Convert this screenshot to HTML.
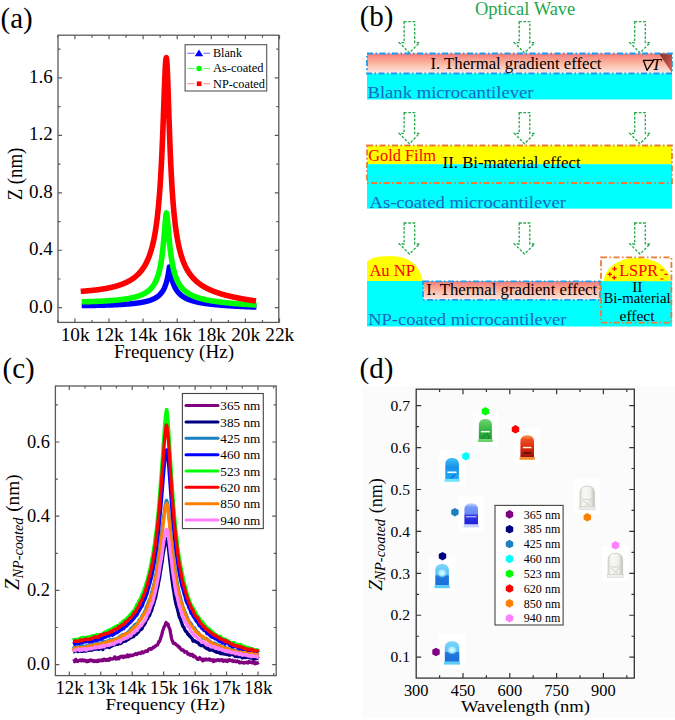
<!DOCTYPE html>
<html><head><meta charset="utf-8"><style>html,body{margin:0;padding:0;background:#fff;}svg{display:block;}</style></head>
<body><svg width="675" height="720" viewBox="0 0 675 720">
<rect width="675" height="720" fill="#fff"/>
<g font-family="Liberation Serif, serif">
<text x="0.6" y="27.7" font-size="29" text-anchor="start" fill="#000">(a)</text>
<text x="52.8" y="312.5" font-size="19.0" text-anchor="end" fill="#000">0.0</text>
<text x="52.8" y="255.06" font-size="19.0" text-anchor="end" fill="#000">0.4</text>
<text x="52.8" y="197.62" font-size="19.0" text-anchor="end" fill="#000">0.8</text>
<text x="52.8" y="140.18" font-size="19.0" text-anchor="end" fill="#000">1.2</text>
<text x="52.8" y="82.74" font-size="19.0" text-anchor="end" fill="#000">1.6</text>
<text x="75.10000000000001" y="340.6" font-size="19.3" text-anchor="middle" fill="#000">10k</text>
<text x="109.2" y="340.6" font-size="19.3" text-anchor="middle" fill="#000">12k</text>
<text x="143.3" y="340.6" font-size="19.3" text-anchor="middle" fill="#000">14k</text>
<text x="177.4" y="340.6" font-size="19.3" text-anchor="middle" fill="#000">16k</text>
<text x="211.5" y="340.6" font-size="19.3" text-anchor="middle" fill="#000">18k</text>
<text x="245.6" y="340.6" font-size="19.3" text-anchor="middle" fill="#000">20k</text>
<text x="279.7" y="340.6" font-size="19.3" text-anchor="middle" fill="#000">22k</text>
<text x="114" y="357.5" font-size="18.8" text-anchor="start" fill="#000" textLength="120" lengthAdjust="spacingAndGlyphs">Frequency (Hz)</text>
<text transform="translate(22.4,200.3) rotate(-90)" font-size="20.5" textLength="52.5" lengthAdjust="spacingAndGlyphs">Z (nm)</text>
<clipPath id="ca"><rect x="58" y="35.2" width="220.8" height="287.2"/></clipPath>
<g clip-path="url(#ca)">
<path d="M81.72,305.64 L81.97,305.64 L82.22,305.63 L82.47,305.63 L82.72,305.63 L82.97,305.62 L83.22,305.62 L83.47,305.62 L83.72,305.62 L83.97,305.61 L84.22,305.61 L84.47,305.61 L84.72,305.60 L84.97,305.60 L85.22,305.60 L85.47,305.59 L85.72,305.59 L85.97,305.59 L86.22,305.58 L86.47,305.58 L86.72,305.58 L86.97,305.57 L87.22,305.57 L87.47,305.56 L87.72,305.56 L87.97,305.56 L88.22,305.55 L88.47,305.55 L88.72,305.55 L88.97,305.54 L89.22,305.54 L89.47,305.53 L89.72,305.53 L89.97,305.53 L90.22,305.52 L90.47,305.52 L90.72,305.51 L90.97,305.51 L91.22,305.51 L91.47,305.50 L91.72,305.50 L91.97,305.49 L92.22,305.49 L92.47,305.48 L92.72,305.48 L92.97,305.47 L93.22,305.47 L93.47,305.47 L93.72,305.46 L93.97,305.46 L94.22,305.45 L94.47,305.45 L94.72,305.44 L94.97,305.44 L95.22,305.43 L95.47,305.43 L95.72,305.42 L95.97,305.42 L96.22,305.41 L96.47,305.41 L96.72,305.40 L96.97,305.40 L97.22,305.39 L97.47,305.38 L97.72,305.38 L97.97,305.37 L98.22,305.37 L98.47,305.36 L98.72,305.36 L98.97,305.35 L99.22,305.35 L99.47,305.34 L99.72,305.33 L99.97,305.33 L100.22,305.32 L100.47,305.32 L100.72,305.31 L100.97,305.30 L101.22,305.30 L101.47,305.29 L101.72,305.28 L101.97,305.28 L102.22,305.27 L102.47,305.26 L102.72,305.26 L102.97,305.25 L103.22,305.24 L103.47,305.24 L103.72,305.23 L103.97,305.22 L104.22,305.22 L104.47,305.21 L104.72,305.20 L104.97,305.19 L105.22,305.19 L105.47,305.18 L105.72,305.17 L105.97,305.16 L106.22,305.16 L106.47,305.15 L106.72,305.14 L106.97,305.13 L107.22,305.12 L107.47,305.12 L107.72,305.11 L107.97,305.10 L108.22,305.09 L108.47,305.08 L108.72,305.07 L108.97,305.07 L109.22,305.06 L109.47,305.05 L109.72,305.04 L109.97,305.03 L110.22,305.02 L110.47,305.01 L110.72,305.00 L110.97,304.99 L111.22,304.98 L111.47,304.97 L111.72,304.97 L111.97,304.96 L112.22,304.95 L112.47,304.94 L112.72,304.93 L112.97,304.92 L113.22,304.91 L113.47,304.89 L113.72,304.88 L113.97,304.87 L114.22,304.86 L114.47,304.85 L114.72,304.84 L114.97,304.83 L115.22,304.82 L115.47,304.81 L115.72,304.80 L115.97,304.78 L116.22,304.77 L116.47,304.76 L116.72,304.75 L116.97,304.74 L117.22,304.72 L117.47,304.71 L117.72,304.70 L117.97,304.69 L118.22,304.67 L118.47,304.66 L118.72,304.65 L118.97,304.64 L119.22,304.62 L119.47,304.61 L119.72,304.60 L119.97,304.58 L120.22,304.57 L120.47,304.55 L120.72,304.54 L120.97,304.52 L121.22,304.51 L121.47,304.50 L121.72,304.48 L121.97,304.47 L122.22,304.45 L122.47,304.43 L122.72,304.42 L122.97,304.40 L123.22,304.39 L123.47,304.37 L123.72,304.35 L123.97,304.34 L124.22,304.32 L124.47,304.30 L124.72,304.29 L124.97,304.27 L125.22,304.25 L125.47,304.23 L125.72,304.22 L125.97,304.20 L126.22,304.18 L126.47,304.16 L126.72,304.14 L126.97,304.12 L127.22,304.10 L127.47,304.08 L127.72,304.06 L127.97,304.04 L128.22,304.02 L128.47,304.00 L128.72,303.98 L128.97,303.96 L129.22,303.94 L129.47,303.92 L129.72,303.90 L129.97,303.87 L130.22,303.85 L130.47,303.83 L130.72,303.81 L130.97,303.78 L131.22,303.76 L131.47,303.73 L131.72,303.71 L131.97,303.69 L132.22,303.66 L132.47,303.64 L132.72,303.61 L132.97,303.58 L133.22,303.56 L133.47,303.53 L133.72,303.50 L133.97,303.48 L134.22,303.45 L134.47,303.42 L134.72,303.39 L134.97,303.36 L135.22,303.33 L135.47,303.30 L135.72,303.27 L135.97,303.24 L136.22,303.21 L136.47,303.18 L136.72,303.14 L136.97,303.11 L137.22,303.08 L137.47,303.04 L137.72,303.01 L137.97,302.98 L138.22,302.94 L138.47,302.90 L138.72,302.87 L138.97,302.83 L139.22,302.79 L139.47,302.76 L139.72,302.72 L139.97,302.68 L140.22,302.64 L140.47,302.60 L140.72,302.56 L140.97,302.51 L141.22,302.47 L141.47,302.43 L141.72,302.38 L141.97,302.34 L142.22,302.29 L142.47,302.25 L142.72,302.20 L142.97,302.15 L143.22,302.10 L143.47,302.05 L143.72,302.00 L143.97,301.95 L144.22,301.90 L144.47,301.84 L144.72,301.79 L144.97,301.73 L145.22,301.68 L145.47,301.62 L145.72,301.56 L145.97,301.50 L146.22,301.44 L146.47,301.38 L146.72,301.32 L146.97,301.25 L147.22,301.19 L147.47,301.12 L147.72,301.05 L147.97,300.98 L148.22,300.91 L148.47,300.84 L148.72,300.76 L148.97,300.69 L149.22,300.61 L149.47,300.53 L149.72,300.45 L149.97,300.37 L150.22,300.28 L150.47,300.20 L150.72,300.11 L150.97,300.02 L151.22,299.93 L151.47,299.83 L151.73,299.73 L151.98,299.64 L152.23,299.53 L152.48,299.43 L152.73,299.32 L152.98,299.21 L153.23,299.10 L153.48,298.99 L153.73,298.87 L153.98,298.75 L154.23,298.63 L154.48,298.50 L154.73,298.37 L154.98,298.23 L155.23,298.10 L155.48,297.95 L155.73,297.81 L155.98,297.66 L156.23,297.50 L156.48,297.34 L156.73,297.18 L156.98,297.01 L157.23,296.84 L157.48,296.66 L157.73,296.47 L157.98,296.28 L158.23,296.09 L158.48,295.88 L158.73,295.67 L158.98,295.45 L159.23,295.23 L159.48,295.00 L159.73,294.75 L159.98,294.50 L160.23,294.24 L160.48,293.97 L160.73,293.69 L160.98,293.40 L161.23,293.10 L161.48,292.78 L161.73,292.45 L161.98,292.11 L162.23,291.76 L162.48,291.38 L162.73,290.99 L162.98,290.59 L163.23,290.16 L163.48,289.71 L163.73,289.24 L163.98,288.75 L164.23,288.23 L164.48,287.69 L164.73,287.12 L164.98,286.51 L165.23,285.87 L165.48,285.19 L165.73,284.48 L165.98,283.72 L166.23,282.91 L166.48,282.05 L166.73,281.14 L166.98,280.16 L167.23,279.12 L167.48,278.00 L167.73,276.81 L167.98,275.53 L168.23,274.15 L168.48,272.68 L168.73,271.10 L168.98,269.42 L169.23,267.68 L169.35,266.89 L169.48,267.62 L169.73,269.09 L169.98,270.52 L170.23,271.89 L170.48,273.18 L170.73,274.40 L170.98,275.56 L171.23,276.64 L171.48,277.67 L171.73,278.64 L171.98,279.55 L172.23,280.41 L172.48,281.23 L172.73,282.01 L172.98,282.74 L173.23,283.44 L173.48,284.10 L173.73,284.73 L173.98,285.33 L174.23,285.91 L174.48,286.45 L174.73,286.97 L174.98,287.47 L175.23,287.95 L175.48,288.41 L175.73,288.85 L175.98,289.27 L176.23,289.67 L176.48,290.06 L176.73,290.43 L176.98,290.79 L177.23,291.14 L177.48,291.47 L177.73,291.79 L177.98,292.10 L178.23,292.40 L178.48,292.69 L178.73,292.97 L178.98,293.24 L179.23,293.50 L179.48,293.76 L179.73,294.00 L179.98,294.24 L180.23,294.47 L180.48,294.69 L180.73,294.91 L180.98,295.12 L181.23,295.33 L181.48,295.53 L181.73,295.72 L181.98,295.91 L182.23,296.09 L182.48,296.27 L182.73,296.44 L182.98,296.61 L183.23,296.77 L183.48,296.93 L183.73,297.09 L183.98,297.24 L184.23,297.39 L184.48,297.54 L184.73,297.68 L184.98,297.81 L185.23,297.95 L185.48,298.08 L185.73,298.21 L185.98,298.34 L186.23,298.46 L186.48,298.58 L186.73,298.70 L186.98,298.81 L187.23,298.93 L187.48,299.04 L187.73,299.14 L187.98,299.25 L188.23,299.35 L188.48,299.46 L188.73,299.56 L188.98,299.65 L189.23,299.75 L189.48,299.84 L189.73,299.94 L189.98,300.03 L190.23,300.11 L190.48,300.20 L190.73,300.29 L190.98,300.37 L191.23,300.45 L191.48,300.53 L191.73,300.61 L191.98,300.69 L192.23,300.77 L192.48,300.84 L192.73,300.92 L192.98,300.99 L193.23,301.06 L193.48,301.13 L193.73,301.20 L193.98,301.27 L194.23,301.34 L194.48,301.40 L194.73,301.47 L194.98,301.53 L195.23,301.60 L195.48,301.66 L195.73,301.72 L195.98,301.78 L196.23,301.84 L196.48,301.90 L196.73,301.96 L196.98,302.01 L197.23,302.07 L197.48,302.12 L197.73,302.18 L197.98,302.23 L198.23,302.28 L198.48,302.34 L198.73,302.39 L198.98,302.44 L199.23,302.49 L199.48,302.54 L199.73,302.59 L199.98,302.63 L200.23,302.68 L200.48,302.73 L200.73,302.77 L200.98,302.82 L201.23,302.86 L201.48,302.91 L201.73,302.95 L201.98,303.00 L202.23,303.04 L202.48,303.08 L202.73,303.12 L202.98,303.16 L203.23,303.20 L203.48,303.24 L203.73,303.28 L203.98,303.32 L204.23,303.36 L204.48,303.40 L204.73,303.44 L204.98,303.48 L205.23,303.51 L205.48,303.55 L205.73,303.59 L205.98,303.62 L206.23,303.66 L206.48,303.69 L206.73,303.73 L206.98,303.76 L207.23,303.80 L207.48,303.83 L207.73,303.86 L207.98,303.89 L208.23,303.93 L208.48,303.96 L208.73,303.99 L208.98,304.02 L209.23,304.05 L209.48,304.08 L209.73,304.12 L209.98,304.15 L210.23,304.18 L210.48,304.21 L210.73,304.23 L210.98,304.26 L211.23,304.29 L211.48,304.32 L211.73,304.35 L211.98,304.38 L212.23,304.40 L212.48,304.43 L212.73,304.46 L212.98,304.49 L213.23,304.51 L213.48,304.54 L213.73,304.57 L213.98,304.59 L214.23,304.62 L214.48,304.64 L214.73,304.67 L214.98,304.69 L215.23,304.72 L215.48,304.74 L215.73,304.77 L215.98,304.79 L216.23,304.81 L216.48,304.84 L216.73,304.86 L216.98,304.89 L217.23,304.91 L217.48,304.93 L217.73,304.95 L217.98,304.98 L218.23,305.00 L218.48,305.02 L218.73,305.04 L218.98,305.07 L219.23,305.09 L219.48,305.11 L219.73,305.13 L219.98,305.15 L220.23,305.17 L220.48,305.19 L220.73,305.21 L220.98,305.23 L221.23,305.25 L221.48,305.27 L221.73,305.29 L221.98,305.31 L222.23,305.33 L222.48,305.35 L222.73,305.37 L222.98,305.39 L223.23,305.41 L223.48,305.43 L223.73,305.45 L223.98,305.47 L224.23,305.49 L224.48,305.51 L224.73,305.52 L224.98,305.54 L225.23,305.56 L225.48,305.58 L225.73,305.60 L225.98,305.61 L226.23,305.63 L226.48,305.65 L226.73,305.67 L226.98,305.68 L227.23,305.70 L227.48,305.72 L227.73,305.74 L227.98,305.75 L228.23,305.77 L228.48,305.79 L228.73,305.80 L228.98,305.82 L229.23,305.83 L229.48,305.85 L229.73,305.87 L229.98,305.88 L230.23,305.90 L230.48,305.91 L230.73,305.93 L230.98,305.95 L231.23,305.96 L231.48,305.98 L231.73,305.99 L231.98,306.01 L232.23,306.02 L232.48,306.04 L232.73,306.05 L232.98,306.07 L233.23,306.08 L233.48,306.10 L233.73,306.11 L233.98,306.12 L234.23,306.14 L234.48,306.15 L234.73,306.17 L234.98,306.18 L235.23,306.20 L235.48,306.21 L235.73,306.22 L235.98,306.24 L236.23,306.25 L236.48,306.26 L236.73,306.28 L236.98,306.29 L237.23,306.31 L237.48,306.32 L237.73,306.33 L237.98,306.35 L238.23,306.36 L238.48,306.37 L238.73,306.38 L238.98,306.40 L239.23,306.41 L239.48,306.42 L239.73,306.44 L239.98,306.45 L240.23,306.46 L240.48,306.47 L240.73,306.49 L240.98,306.50 L241.23,306.51 L241.48,306.52 L241.73,306.54 L241.98,306.55 L242.23,306.56 L242.48,306.57 L242.73,306.58 L242.98,306.60 L243.23,306.61 L243.48,306.62 L243.73,306.63 L243.98,306.64 L244.23,306.65 L244.48,306.67 L244.73,306.68 L244.98,306.69 L245.23,306.70 L245.48,306.71 L245.73,306.72 L245.98,306.73 L246.23,306.75 L246.48,306.76 L246.73,306.77 L246.98,306.78 L247.23,306.79 L247.48,306.80 L247.73,306.81 L247.98,306.82 L248.23,306.83 L248.48,306.84 L248.73,306.85 L248.98,306.87 L249.23,306.88 L249.48,306.89 L249.73,306.90 L249.98,306.91 L250.23,306.92 L250.48,306.93 L250.73,306.94 L250.98,306.95 L251.23,306.96 L251.48,306.97 L251.73,306.98 L251.98,306.99 L252.23,307.00 L252.48,307.01 L252.73,307.02 L252.98,307.03 L253.23,307.04 L253.48,307.05 L253.73,307.06 L253.98,307.07 L254.23,307.08 L254.48,307.09 L254.73,307.10 L254.98,307.11 L255.23,307.12 L255.48,307.13 L255.73,307.14 L255.98,307.15 L256.23,307.16 L256.48,307.17" stroke="#0000ff" stroke-width="5.4" fill="none" stroke-linejoin="round"/>
<path d="M81.72,301.81 L81.97,301.80 L82.22,301.79 L82.47,301.79 L82.72,301.78 L82.97,301.78 L83.22,301.77 L83.47,301.77 L83.72,301.76 L83.97,301.75 L84.22,301.75 L84.47,301.74 L84.72,301.74 L84.97,301.73 L85.22,301.72 L85.47,301.72 L85.72,301.71 L85.97,301.70 L86.22,301.70 L86.47,301.69 L86.72,301.68 L86.97,301.68 L87.22,301.67 L87.47,301.66 L87.72,301.66 L87.97,301.65 L88.22,301.64 L88.47,301.64 L88.72,301.63 L88.97,301.62 L89.22,301.61 L89.47,301.61 L89.72,301.60 L89.97,301.59 L90.22,301.58 L90.47,301.58 L90.72,301.57 L90.97,301.56 L91.22,301.55 L91.47,301.54 L91.72,301.54 L91.97,301.53 L92.22,301.52 L92.47,301.51 L92.72,301.50 L92.97,301.49 L93.22,301.48 L93.47,301.48 L93.72,301.47 L93.97,301.46 L94.22,301.45 L94.47,301.44 L94.72,301.43 L94.97,301.42 L95.22,301.41 L95.47,301.40 L95.72,301.39 L95.97,301.38 L96.22,301.37 L96.47,301.36 L96.72,301.35 L96.97,301.34 L97.22,301.33 L97.47,301.32 L97.72,301.31 L97.97,301.30 L98.22,301.29 L98.47,301.28 L98.72,301.27 L98.97,301.26 L99.22,301.25 L99.47,301.23 L99.72,301.22 L99.97,301.21 L100.22,301.20 L100.47,301.19 L100.72,301.18 L100.97,301.16 L101.22,301.15 L101.47,301.14 L101.72,301.13 L101.97,301.11 L102.22,301.10 L102.47,301.09 L102.72,301.08 L102.97,301.06 L103.22,301.05 L103.47,301.04 L103.72,301.02 L103.97,301.01 L104.22,301.00 L104.47,300.98 L104.72,300.97 L104.97,300.95 L105.22,300.94 L105.47,300.92 L105.72,300.91 L105.97,300.89 L106.22,300.88 L106.47,300.86 L106.72,300.85 L106.97,300.83 L107.22,300.82 L107.47,300.80 L107.72,300.79 L107.97,300.77 L108.22,300.75 L108.47,300.74 L108.72,300.72 L108.97,300.70 L109.22,300.69 L109.47,300.67 L109.72,300.65 L109.97,300.63 L110.22,300.62 L110.47,300.60 L110.72,300.58 L110.97,300.56 L111.22,300.54 L111.47,300.52 L111.72,300.50 L111.97,300.48 L112.22,300.46 L112.47,300.45 L112.72,300.43 L112.97,300.40 L113.22,300.38 L113.47,300.36 L113.72,300.34 L113.97,300.32 L114.22,300.30 L114.47,300.28 L114.72,300.26 L114.97,300.23 L115.22,300.21 L115.47,300.19 L115.72,300.17 L115.97,300.14 L116.22,300.12 L116.47,300.10 L116.72,300.07 L116.97,300.05 L117.22,300.02 L117.47,300.00 L117.72,299.97 L117.97,299.95 L118.22,299.92 L118.47,299.89 L118.72,299.87 L118.97,299.84 L119.22,299.81 L119.47,299.79 L119.72,299.76 L119.97,299.73 L120.22,299.70 L120.47,299.67 L120.72,299.64 L120.97,299.61 L121.22,299.58 L121.47,299.55 L121.72,299.52 L121.97,299.49 L122.22,299.46 L122.47,299.43 L122.72,299.40 L122.97,299.36 L123.22,299.33 L123.47,299.30 L123.72,299.26 L123.97,299.23 L124.22,299.19 L124.47,299.16 L124.72,299.12 L124.97,299.08 L125.22,299.05 L125.47,299.01 L125.72,298.97 L125.97,298.93 L126.22,298.89 L126.47,298.86 L126.72,298.82 L126.97,298.77 L127.22,298.73 L127.47,298.69 L127.72,298.65 L127.97,298.61 L128.22,298.56 L128.47,298.52 L128.72,298.47 L128.97,298.43 L129.22,298.38 L129.47,298.34 L129.72,298.29 L129.97,298.24 L130.22,298.19 L130.47,298.14 L130.72,298.09 L130.97,298.04 L131.22,297.99 L131.47,297.94 L131.72,297.88 L131.97,297.83 L132.22,297.77 L132.47,297.72 L132.72,297.66 L132.97,297.60 L133.22,297.54 L133.47,297.48 L133.72,297.42 L133.97,297.36 L134.22,297.30 L134.47,297.23 L134.72,297.17 L134.97,297.10 L135.22,297.04 L135.47,296.97 L135.72,296.90 L135.97,296.83 L136.22,296.76 L136.47,296.69 L136.72,296.61 L136.97,296.54 L137.22,296.46 L137.47,296.38 L137.72,296.30 L137.97,296.22 L138.22,296.14 L138.47,296.06 L138.72,295.97 L138.97,295.88 L139.22,295.79 L139.47,295.70 L139.72,295.61 L139.97,295.52 L140.22,295.42 L140.47,295.33 L140.72,295.23 L140.97,295.13 L141.22,295.02 L141.47,294.92 L141.72,294.81 L141.97,294.70 L142.22,294.59 L142.47,294.47 L142.72,294.36 L142.97,294.24 L143.22,294.12 L143.47,293.99 L143.72,293.86 L143.97,293.73 L144.22,293.60 L144.47,293.46 L144.72,293.33 L144.97,293.18 L145.22,293.04 L145.47,292.89 L145.72,292.74 L145.97,292.58 L146.22,292.42 L146.47,292.26 L146.72,292.09 L146.97,291.92 L147.22,291.74 L147.47,291.56 L147.72,291.38 L147.97,291.19 L148.22,290.99 L148.47,290.79 L148.72,290.59 L148.97,290.37 L149.22,290.16 L149.47,289.93 L149.72,289.70 L149.97,289.47 L150.22,289.22 L150.47,288.97 L150.72,288.72 L150.97,288.45 L151.22,288.18 L151.47,287.89 L151.73,287.60 L151.98,287.30 L152.23,286.99 L152.48,286.67 L152.73,286.34 L152.98,286.00 L153.23,285.65 L153.48,285.28 L153.73,284.90 L153.98,284.51 L154.23,284.10 L154.48,283.68 L154.73,283.24 L154.98,282.78 L155.23,282.31 L155.48,281.82 L155.73,281.31 L155.98,280.77 L156.23,280.22 L156.48,279.64 L156.73,279.03 L156.98,278.40 L157.23,277.74 L157.48,277.06 L157.73,276.33 L157.98,275.58 L158.23,274.79 L158.48,273.96 L158.73,273.08 L158.98,272.17 L159.23,271.20 L159.48,270.18 L159.73,269.11 L159.98,267.98 L160.23,266.79 L160.48,265.53 L160.73,264.19 L160.98,262.78 L161.23,261.28 L161.48,259.69 L161.73,258.01 L161.98,256.22 L162.23,254.32 L162.48,252.31 L162.73,250.17 L162.98,247.90 L163.23,245.51 L163.48,242.97 L163.73,240.31 L163.98,237.52 L164.23,234.61 L164.48,231.61 L164.73,228.55 L164.98,225.48 L165.23,222.48 L165.48,219.62 L165.73,217.05 L165.98,214.91 L166.23,213.44 L166.40,213.01 L166.48,213.12 L166.73,214.15 L166.98,215.88 L167.23,218.08 L167.48,220.61 L167.73,223.33 L167.98,226.17 L168.23,229.04 L168.48,231.90 L168.73,234.70 L168.98,237.42 L169.23,240.05 L169.48,242.56 L169.73,244.96 L169.98,247.24 L170.23,249.41 L170.48,251.46 L170.73,253.41 L170.98,255.25 L171.23,256.99 L171.48,258.64 L171.73,260.20 L171.98,261.67 L172.23,263.07 L172.48,264.39 L172.73,265.65 L172.98,266.84 L173.23,267.98 L173.48,269.06 L173.73,270.08 L173.98,271.06 L174.23,271.99 L174.48,272.87 L174.73,273.72 L174.98,274.53 L175.23,275.30 L175.48,276.04 L175.73,276.75 L175.98,277.43 L176.23,278.08 L176.48,278.71 L176.73,279.31 L176.98,279.88 L177.23,280.44 L177.48,280.97 L177.73,281.49 L177.98,281.98 L178.23,282.46 L178.48,282.92 L178.73,283.36 L178.98,283.79 L179.23,284.21 L179.48,284.61 L179.73,285.00 L179.98,285.37 L180.23,285.74 L180.48,286.09 L180.73,286.43 L180.98,286.76 L181.23,287.08 L181.48,287.39 L181.73,287.70 L181.98,287.99 L182.23,288.28 L182.48,288.55 L182.73,288.82 L182.98,289.09 L183.23,289.34 L183.48,289.59 L183.73,289.83 L183.98,290.07 L184.23,290.30 L184.48,290.52 L184.73,290.74 L184.98,290.96 L185.23,291.16 L185.48,291.37 L185.73,291.57 L185.98,291.76 L186.23,291.95 L186.48,292.13 L186.73,292.32 L186.98,292.49 L187.23,292.67 L187.48,292.83 L187.73,293.00 L187.98,293.16 L188.23,293.32 L188.48,293.48 L188.73,293.63 L188.98,293.78 L189.23,293.92 L189.48,294.07 L189.73,294.21 L189.98,294.35 L190.23,294.48 L190.48,294.61 L190.73,294.74 L190.98,294.87 L191.23,295.00 L191.48,295.12 L191.73,295.24 L191.98,295.36 L192.23,295.47 L192.48,295.59 L192.73,295.70 L192.98,295.81 L193.23,295.92 L193.48,296.02 L193.73,296.13 L193.98,296.23 L194.23,296.33 L194.48,296.43 L194.73,296.53 L194.98,296.63 L195.23,296.72 L195.48,296.82 L195.73,296.91 L195.98,297.00 L196.23,297.09 L196.48,297.18 L196.73,297.26 L196.98,297.35 L197.23,297.43 L197.48,297.51 L197.73,297.59 L197.98,297.68 L198.23,297.75 L198.48,297.83 L198.73,297.91 L198.98,297.98 L199.23,298.06 L199.48,298.13 L199.73,298.21 L199.98,298.28 L200.23,298.35 L200.48,298.42 L200.73,298.49 L200.98,298.56 L201.23,298.62 L201.48,298.69 L201.73,298.75 L201.98,298.82 L202.23,298.88 L202.48,298.94 L202.73,299.01 L202.98,299.07 L203.23,299.13 L203.48,299.19 L203.73,299.25 L203.98,299.31 L204.23,299.36 L204.48,299.42 L204.73,299.48 L204.98,299.53 L205.23,299.59 L205.48,299.64 L205.73,299.70 L205.98,299.75 L206.23,299.80 L206.48,299.85 L206.73,299.91 L206.98,299.96 L207.23,300.01 L207.48,300.06 L207.73,300.11 L207.98,300.16 L208.23,300.20 L208.48,300.25 L208.73,300.30 L208.98,300.35 L209.23,300.39 L209.48,300.44 L209.73,300.48 L209.98,300.53 L210.23,300.57 L210.48,300.62 L210.73,300.66 L210.98,300.70 L211.23,300.75 L211.48,300.79 L211.73,300.83 L211.98,300.87 L212.23,300.91 L212.48,300.95 L212.73,300.99 L212.98,301.03 L213.23,301.07 L213.48,301.11 L213.73,301.15 L213.98,301.19 L214.23,301.23 L214.48,301.26 L214.73,301.30 L214.98,301.34 L215.23,301.38 L215.48,301.41 L215.73,301.45 L215.98,301.48 L216.23,301.52 L216.48,301.55 L216.73,301.59 L216.98,301.62 L217.23,301.66 L217.48,301.69 L217.73,301.73 L217.98,301.76 L218.23,301.79 L218.48,301.83 L218.73,301.86 L218.98,301.89 L219.23,301.92 L219.48,301.95 L219.73,301.99 L219.98,302.02 L220.23,302.05 L220.48,302.08 L220.73,302.11 L220.98,302.14 L221.23,302.17 L221.48,302.20 L221.73,302.23 L221.98,302.26 L222.23,302.29 L222.48,302.32 L222.73,302.35 L222.98,302.38 L223.23,302.40 L223.48,302.43 L223.73,302.46 L223.98,302.49 L224.23,302.52 L224.48,302.54 L224.73,302.57 L224.98,302.60 L225.23,302.62 L225.48,302.65 L225.73,302.68 L225.98,302.70 L226.23,302.73 L226.48,302.76 L226.73,302.78 L226.98,302.81 L227.23,302.83 L227.48,302.86 L227.73,302.88 L227.98,302.91 L228.23,302.93 L228.48,302.96 L228.73,302.98 L228.98,303.01 L229.23,303.03 L229.48,303.05 L229.73,303.08 L229.98,303.10 L230.23,303.13 L230.48,303.15 L230.73,303.17 L230.98,303.20 L231.23,303.22 L231.48,303.24 L231.73,303.26 L231.98,303.29 L232.23,303.31 L232.48,303.33 L232.73,303.35 L232.98,303.38 L233.23,303.40 L233.48,303.42 L233.73,303.44 L233.98,303.46 L234.23,303.48 L234.48,303.50 L234.73,303.53 L234.98,303.55 L235.23,303.57 L235.48,303.59 L235.73,303.61 L235.98,303.63 L236.23,303.65 L236.48,303.67 L236.73,303.69 L236.98,303.71 L237.23,303.73 L237.48,303.75 L237.73,303.77 L237.98,303.79 L238.23,303.81 L238.48,303.83 L238.73,303.85 L238.98,303.87 L239.23,303.89 L239.48,303.91 L239.73,303.92 L239.98,303.94 L240.23,303.96 L240.48,303.98 L240.73,304.00 L240.98,304.02 L241.23,304.04 L241.48,304.06 L241.73,304.07 L241.98,304.09 L242.23,304.11 L242.48,304.13 L242.73,304.15 L242.98,304.16 L243.23,304.18 L243.48,304.20 L243.73,304.22 L243.98,304.23 L244.23,304.25 L244.48,304.27 L244.73,304.29 L244.98,304.30 L245.23,304.32 L245.48,304.34 L245.73,304.35 L245.98,304.37 L246.23,304.39 L246.48,304.40 L246.73,304.42 L246.98,304.44 L247.23,304.45 L247.48,304.47 L247.73,304.49 L247.98,304.50 L248.23,304.52 L248.48,304.53 L248.73,304.55 L248.98,304.57 L249.23,304.58 L249.48,304.60 L249.73,304.61 L249.98,304.63 L250.23,304.65 L250.48,304.66 L250.73,304.68 L250.98,304.69 L251.23,304.71 L251.48,304.72 L251.73,304.74 L251.98,304.75 L252.23,304.77 L252.48,304.78 L252.73,304.80 L252.98,304.81 L253.23,304.83 L253.48,304.84 L253.73,304.86 L253.98,304.87 L254.23,304.89 L254.48,304.90 L254.73,304.92 L254.98,304.93 L255.23,304.94 L255.48,304.96 L255.73,304.97 L255.98,304.99 L256.23,305.00 L256.48,305.02" stroke="#00ff00" stroke-width="5.6" fill="none" stroke-linejoin="round"/>
<path d="M80.70,291.34 L80.95,291.32 L81.20,291.30 L81.45,291.29 L81.70,291.27 L81.95,291.25 L82.20,291.23 L82.45,291.22 L82.70,291.20 L82.95,291.18 L83.20,291.16 L83.46,291.14 L83.71,291.12 L83.96,291.11 L84.21,291.09 L84.46,291.07 L84.71,291.05 L84.96,291.03 L85.21,291.01 L85.46,290.99 L85.71,290.97 L85.96,290.95 L86.21,290.93 L86.46,290.91 L86.71,290.88 L86.97,290.86 L87.22,290.84 L87.47,290.82 L87.72,290.80 L87.97,290.78 L88.22,290.75 L88.47,290.73 L88.72,290.71 L88.97,290.68 L89.22,290.66 L89.47,290.64 L89.72,290.61 L89.97,290.59 L90.23,290.57 L90.48,290.54 L90.73,290.52 L90.98,290.49 L91.23,290.47 L91.48,290.44 L91.73,290.42 L91.98,290.39 L92.23,290.36 L92.48,290.34 L92.73,290.31 L92.98,290.28 L93.23,290.26 L93.49,290.23 L93.74,290.20 L93.99,290.17 L94.24,290.14 L94.49,290.12 L94.74,290.09 L94.99,290.06 L95.24,290.03 L95.49,290.00 L95.74,289.97 L95.99,289.94 L96.24,289.91 L96.49,289.88 L96.74,289.85 L97.00,289.81 L97.25,289.78 L97.50,289.75 L97.75,289.72 L98.00,289.68 L98.25,289.65 L98.50,289.62 L98.75,289.58 L99.00,289.55 L99.25,289.52 L99.50,289.48 L99.75,289.45 L100.00,289.41 L100.26,289.37 L100.51,289.34 L100.76,289.30 L101.01,289.26 L101.26,289.23 L101.51,289.19 L101.76,289.15 L102.01,289.11 L102.26,289.07 L102.51,289.03 L102.76,288.99 L103.01,288.95 L103.26,288.91 L103.52,288.87 L103.77,288.83 L104.02,288.79 L104.27,288.75 L104.52,288.70 L104.77,288.66 L105.02,288.62 L105.27,288.57 L105.52,288.53 L105.77,288.48 L106.02,288.44 L106.27,288.39 L106.52,288.34 L106.77,288.30 L107.03,288.25 L107.28,288.20 L107.53,288.15 L107.78,288.10 L108.03,288.05 L108.28,288.00 L108.53,287.95 L108.78,287.90 L109.03,287.85 L109.28,287.80 L109.53,287.75 L109.78,287.69 L110.03,287.64 L110.29,287.58 L110.54,287.53 L110.79,287.47 L111.04,287.42 L111.29,287.36 L111.54,287.30 L111.79,287.24 L112.04,287.19 L112.29,287.13 L112.54,287.07 L112.79,287.00 L113.04,286.94 L113.29,286.88 L113.55,286.82 L113.80,286.75 L114.05,286.69 L114.30,286.62 L114.55,286.56 L114.80,286.49 L115.05,286.42 L115.30,286.36 L115.55,286.29 L115.80,286.22 L116.05,286.15 L116.30,286.08 L116.55,286.00 L116.80,285.93 L117.06,285.86 L117.31,285.78 L117.56,285.71 L117.81,285.63 L118.06,285.55 L118.31,285.47 L118.56,285.39 L118.81,285.31 L119.06,285.23 L119.31,285.15 L119.56,285.07 L119.81,284.98 L120.06,284.90 L120.32,284.81 L120.57,284.72 L120.82,284.63 L121.07,284.55 L121.32,284.45 L121.57,284.36 L121.82,284.27 L122.07,284.18 L122.32,284.08 L122.57,283.98 L122.82,283.88 L123.07,283.79 L123.32,283.69 L123.58,283.58 L123.83,283.48 L124.08,283.38 L124.33,283.27 L124.58,283.16 L124.83,283.05 L125.08,282.94 L125.33,282.83 L125.58,282.72 L125.83,282.60 L126.08,282.49 L126.33,282.37 L126.58,282.25 L126.83,282.13 L127.09,282.01 L127.34,281.88 L127.59,281.76 L127.84,281.63 L128.09,281.50 L128.34,281.37 L128.59,281.23 L128.84,281.10 L129.09,280.96 L129.34,280.82 L129.59,280.68 L129.84,280.53 L130.09,280.39 L130.35,280.24 L130.60,280.09 L130.85,279.94 L131.10,279.78 L131.35,279.63 L131.60,279.47 L131.85,279.30 L132.10,279.14 L132.35,278.97 L132.60,278.80 L132.85,278.63 L133.10,278.46 L133.35,278.28 L133.61,278.10 L133.86,277.91 L134.11,277.73 L134.36,277.54 L134.61,277.34 L134.86,277.15 L135.11,276.95 L135.36,276.74 L135.61,276.54 L135.86,276.33 L136.11,276.12 L136.36,275.90 L136.61,275.68 L136.86,275.45 L137.12,275.22 L137.37,274.99 L137.62,274.75 L137.87,274.51 L138.12,274.27 L138.37,274.02 L138.62,273.76 L138.87,273.50 L139.12,273.24 L139.37,272.97 L139.62,272.69 L139.87,272.41 L140.12,272.13 L140.38,271.83 L140.63,271.54 L140.88,271.23 L141.13,270.92 L141.38,270.61 L141.63,270.29 L141.88,269.96 L142.13,269.62 L142.38,269.28 L142.63,268.93 L142.88,268.57 L143.13,268.21 L143.38,267.84 L143.64,267.45 L143.89,267.06 L144.14,266.67 L144.39,266.26 L144.64,265.84 L144.89,265.41 L145.14,264.98 L145.39,264.53 L145.64,264.07 L145.89,263.60 L146.14,263.12 L146.39,262.63 L146.64,262.12 L146.89,261.61 L147.15,261.08 L147.40,260.53 L147.65,259.97 L147.90,259.40 L148.15,258.81 L148.40,258.21 L148.65,257.58 L148.90,256.95 L149.15,256.29 L149.40,255.61 L149.65,254.92 L149.90,254.20 L150.15,253.47 L150.41,252.71 L150.66,251.93 L150.91,251.12 L151.16,250.29 L151.41,249.43 L151.66,248.55 L151.91,247.63 L152.16,246.69 L152.41,245.71 L152.66,244.70 L152.91,243.66 L153.16,242.58 L153.41,241.46 L153.67,240.30 L153.92,239.10 L154.17,237.85 L154.42,236.56 L154.67,235.21 L154.92,233.82 L155.17,232.36 L155.42,230.85 L155.67,229.28 L155.92,227.64 L156.17,225.93 L156.42,224.15 L156.67,222.29 L156.92,220.34 L157.18,218.31 L157.43,216.18 L157.68,213.95 L157.93,211.62 L158.18,209.17 L158.43,206.60 L158.68,203.91 L158.93,201.07 L159.18,198.09 L159.43,194.95 L159.68,191.65 L159.93,188.16 L160.18,184.49 L160.44,180.62 L160.69,176.54 L160.94,172.23 L161.19,167.69 L161.44,162.89 L161.69,157.84 L161.94,152.53 L162.19,146.94 L162.44,141.08 L162.69,134.95 L162.94,128.57 L163.19,121.96 L163.44,115.16 L163.70,108.22 L163.95,101.21 L164.20,94.23 L164.45,87.40 L164.70,80.88 L164.95,74.81 L165.20,69.41 L165.45,64.83 L165.70,61.28 L165.95,58.90 L166.20,57.78 L166.29,57.70 L166.45,58.03 L166.70,59.81 L166.95,63.07 L167.21,67.64 L167.46,73.29 L167.71,79.79 L167.96,86.88 L168.21,94.36 L168.46,102.01 L168.71,109.70 L168.96,117.28 L169.21,124.68 L169.46,131.84 L169.71,138.70 L169.96,145.25 L170.21,151.48 L170.47,157.38 L170.72,162.96 L170.97,168.23 L171.22,173.21 L171.47,177.91 L171.72,182.34 L171.97,186.52 L172.22,190.46 L172.47,194.19 L172.72,197.71 L172.97,201.05 L173.22,204.20 L173.47,207.19 L173.73,210.02 L173.98,212.71 L174.23,215.27 L174.48,217.70 L174.73,220.01 L174.98,222.21 L175.23,224.31 L175.48,226.32 L175.73,228.23 L175.98,230.06 L176.23,231.81 L176.48,233.49 L176.73,235.09 L176.98,236.63 L177.24,238.11 L177.49,239.53 L177.74,240.90 L177.99,242.21 L178.24,243.47 L178.49,244.69 L178.74,245.86 L178.99,246.99 L179.24,248.08 L179.49,249.13 L179.74,250.15 L179.99,251.13 L180.24,252.08 L180.50,253.00 L180.75,253.89 L181.00,254.75 L181.25,255.59 L181.50,256.40 L181.75,257.18 L182.00,257.95 L182.25,258.69 L182.50,259.41 L182.75,260.10 L183.00,260.78 L183.25,261.44 L183.50,262.08 L183.76,262.71 L184.01,263.32 L184.26,263.91 L184.51,264.49 L184.76,265.05 L185.01,265.60 L185.26,266.13 L185.51,266.65 L185.76,267.16 L186.01,267.66 L186.26,268.14 L186.51,268.62 L186.76,269.08 L187.01,269.53 L187.27,269.97 L187.52,270.40 L187.77,270.83 L188.02,271.24 L188.27,271.64 L188.52,272.04 L188.77,272.43 L189.02,272.81 L189.27,273.18 L189.52,273.54 L189.77,273.90 L190.02,274.25 L190.27,274.59 L190.53,274.93 L190.78,275.26 L191.03,275.58 L191.28,275.90 L191.53,276.21 L191.78,276.51 L192.03,276.81 L192.28,277.11 L192.53,277.40 L192.78,277.68 L193.03,277.96 L193.28,278.24 L193.53,278.51 L193.79,278.77 L194.04,279.03 L194.29,279.29 L194.54,279.54 L194.79,279.79 L195.04,280.03 L195.29,280.27 L195.54,280.50 L195.79,280.74 L196.04,280.97 L196.29,281.19 L196.54,281.41 L196.79,281.63 L197.04,281.84 L197.30,282.06 L197.55,282.26 L197.80,282.47 L198.05,282.67 L198.30,282.87 L198.55,283.07 L198.80,283.26 L199.05,283.45 L199.30,283.64 L199.55,283.83 L199.80,284.01 L200.05,284.19 L200.30,284.37 L200.56,284.54 L200.81,284.72 L201.06,284.89 L201.31,285.06 L201.56,285.22 L201.81,285.39 L202.06,285.55 L202.31,285.71 L202.56,285.87 L202.81,286.02 L203.06,286.18 L203.31,286.33 L203.56,286.48 L203.82,286.63 L204.07,286.78 L204.32,286.92 L204.57,287.06 L204.82,287.21 L205.07,287.35 L205.32,287.48 L205.57,287.62 L205.82,287.76 L206.07,287.89 L206.32,288.02 L206.57,288.15 L206.82,288.28 L207.07,288.41 L207.33,288.54 L207.58,288.66 L207.83,288.78 L208.08,288.91 L208.33,289.03 L208.58,289.15 L208.83,289.27 L209.08,289.38 L209.33,289.50 L209.58,289.61 L209.83,289.73 L210.08,289.84 L210.33,289.95 L210.59,290.06 L210.84,290.17 L211.09,290.28 L211.34,290.39 L211.59,290.49 L211.84,290.60 L212.09,290.70 L212.34,290.80 L212.59,290.91 L212.84,291.01 L213.09,291.11 L213.34,291.21 L213.59,291.30 L213.85,291.40 L214.10,291.50 L214.35,291.59 L214.60,291.69 L214.85,291.78 L215.10,291.87 L215.35,291.97 L215.60,292.06 L215.85,292.15 L216.10,292.24 L216.35,292.33 L216.60,292.42 L216.85,292.50 L217.10,292.59 L217.36,292.68 L217.61,292.76 L217.86,292.85 L218.11,292.93 L218.36,293.01 L218.61,293.09 L218.86,293.18 L219.11,293.26 L219.36,293.34 L219.61,293.42 L219.86,293.50 L220.11,293.58 L220.36,293.65 L220.62,293.73 L220.87,293.81 L221.12,293.88 L221.37,293.96 L221.62,294.04 L221.87,294.11 L222.12,294.18 L222.37,294.26 L222.62,294.33 L222.87,294.40 L223.12,294.47 L223.37,294.55 L223.62,294.62 L223.88,294.69 L224.13,294.76 L224.38,294.83 L224.63,294.89 L224.88,294.96 L225.13,295.03 L225.38,295.10 L225.63,295.16 L225.88,295.23 L226.13,295.30 L226.38,295.36 L226.63,295.43 L226.88,295.49 L227.13,295.56 L227.39,295.62 L227.64,295.68 L227.89,295.75 L228.14,295.81 L228.39,295.87 L228.64,295.93 L228.89,295.99 L229.14,296.05 L229.39,296.11 L229.64,296.18 L229.89,296.23 L230.14,296.29 L230.39,296.35 L230.65,296.41 L230.90,296.47 L231.15,296.53 L231.40,296.59 L231.65,296.64 L231.90,296.70 L232.15,296.76 L232.40,296.81 L232.65,296.87 L232.90,296.92 L233.15,296.98 L233.40,297.03 L233.65,297.09 L233.91,297.14 L234.16,297.20 L234.41,297.25 L234.66,297.30 L234.91,297.36 L235.16,297.41 L235.41,297.46 L235.66,297.51 L235.91,297.57 L236.16,297.62 L236.41,297.67 L236.66,297.72 L236.91,297.77 L237.16,297.82 L237.42,297.87 L237.67,297.92 L237.92,297.97 L238.17,298.02 L238.42,298.07 L238.67,298.12 L238.92,298.17 L239.17,298.22 L239.42,298.26 L239.67,298.31 L239.92,298.36 L240.17,298.41 L240.42,298.45 L240.68,298.50 L240.93,298.55 L241.18,298.59 L241.43,298.64 L241.68,298.69 L241.93,298.73 L242.18,298.78 L242.43,298.82 L242.68,298.87 L242.93,298.91 L243.18,298.96 L243.43,299.00 L243.68,299.05 L243.94,299.09 L244.19,299.13 L244.44,299.18 L244.69,299.22 L244.94,299.27 L245.19,299.31 L245.44,299.35 L245.69,299.39 L245.94,299.44 L246.19,299.48 L246.44,299.52 L246.69,299.56 L246.94,299.60 L247.19,299.65 L247.45,299.69 L247.70,299.73 L247.95,299.77 L248.20,299.81 L248.45,299.85 L248.70,299.89 L248.95,299.93 L249.20,299.97 L249.45,300.01 L249.70,300.05 L249.95,300.09 L250.20,300.13 L250.45,300.17 L250.71,300.21 L250.96,300.25 L251.21,300.29 L251.46,300.33 L251.71,300.36 L251.96,300.40 L252.21,300.44 L252.46,300.48 L252.71,300.52 L252.96,300.55 L253.21,300.59 L253.46,300.63 L253.71,300.67 L253.97,300.70 L254.22,300.74 L254.47,300.78 L254.72,300.81 L254.97,300.85 L255.22,300.89 L255.47,300.92 L255.72,300.96 L255.97,301.00" stroke="#ff0000" stroke-width="5.6" fill="none" stroke-linejoin="round"/>
</g>
<rect x="58" y="35.2" width="220.8" height="287.2" fill="none" stroke="#5a5a5a" stroke-width="1.3"/>
<path d="M74.90,322.4v-4M74.90,35.2v4M109.00,322.4v-4M109.00,35.2v4M143.10,322.4v-4M143.10,35.2v4M177.20,322.4v-4M177.20,35.2v4M211.30,322.4v-4M211.30,35.2v4M245.40,322.4v-4M245.40,35.2v4M279.50,322.4v-4M279.50,35.2v4M57.85,322.4v-2.5M57.85,35.2v2.5M91.95,322.4v-2.5M91.95,35.2v2.5M126.05,322.4v-2.5M126.05,35.2v2.5M160.15,322.4v-2.5M160.15,35.2v2.5M194.25,322.4v-2.5M194.25,35.2v2.5M228.35,322.4v-2.5M228.35,35.2v2.5M262.45,322.4v-2.5M262.45,35.2v2.5M58,307.70h4M278.8,307.70h-4M58,250.26h4M278.8,250.26h-4M58,192.82h4M278.8,192.82h-4M58,135.38h4M278.8,135.38h-4M58,77.94h4M278.8,77.94h-4M58,278.98h2.5M278.8,278.98h-2.5M58,221.54h2.5M278.8,221.54h-2.5M58,164.10h2.5M278.8,164.10h-2.5M58,106.66h2.5M278.8,106.66h-2.5M58,49.22h2.5M278.8,49.22h-2.5" stroke="#5a5a5a" stroke-width="1.2" fill="none"/>
<rect x="185.1" y="44.7" width="81.6" height="46.3" fill="#fff" stroke="#555" stroke-width="1.1"/>
<path d="M187.3,53.3H194.6M203.4,53.3H210" stroke="#6a6aff" stroke-width="1.1"/>
<path d="M199,49.5L203.2,56.3L194.8,56.3Z" fill="#0000ff"/>
<text x="213" y="57.199999999999996" font-size="11.8" text-anchor="start" fill="#000" textLength="29" lengthAdjust="spacingAndGlyphs">Blank</text>
<path d="M187.3,68.5H194.6M203.4,68.5H210" stroke="#60ff60" stroke-width="1.1"/>
<circle cx="199" cy="68.5" r="2.7" fill="#00ff00"/>
<text x="213" y="72.4" font-size="11.8" text-anchor="start" fill="#000" textLength="50.5" lengthAdjust="spacingAndGlyphs">As-coated</text>
<path d="M187.3,83.69999999999999H194.6M203.4,83.69999999999999H210" stroke="#ff8080" stroke-width="1.1"/>
<rect x="196.8" y="81.39999999999999" width="4.7" height="4.7" fill="#ff0000"/>
<text x="213" y="87.6" font-size="11.8" text-anchor="start" fill="#000" textLength="52" lengthAdjust="spacingAndGlyphs">NP-coated</text>
</g>
<g font-family="Liberation Serif, serif">
<text x="359.7" y="25.5" font-size="29" text-anchor="start" fill="#000">(b)</text>
<text x="475.0" y="14.8" font-size="18.3" text-anchor="start" fill="#1ca84c" textLength="100.3" lengthAdjust="spacingAndGlyphs">Optical Wave</text>
<defs><linearGradient id="pk" x1="0" y1="0" x2="0" y2="1"><stop offset="0" stop-color="#f87878"/><stop offset="0.5" stop-color="#fbb8a0"/><stop offset="1" stop-color="#fde8e6"/></linearGradient><linearGradient id="nt" x1="0" y1="0" x2="1" y2="1"><stop offset="0" stop-color="#7a3020"/><stop offset="1" stop-color="#e86060"/></linearGradient></defs>
<path d="M404.09999999999997,21.7H414.7V42.7H419.5L409.4,52.8L399.29999999999995,42.7H404.09999999999997Z" fill="none" stroke="#23a84a" stroke-width="1.3" stroke-dasharray="2.6,1.6"/>
<path d="M519.2,21.7H529.8V42.7H534.6L524.5,52.8L514.4,42.7H519.2Z" fill="none" stroke="#23a84a" stroke-width="1.3" stroke-dasharray="2.6,1.6"/>
<path d="M634.7,21.7H645.3V42.7H650.1L640,52.8L629.9,42.7H634.7Z" fill="none" stroke="#23a84a" stroke-width="1.3" stroke-dasharray="2.6,1.6"/>
<rect x="367" y="53.5" width="305" height="20" fill="url(#pk)"/>
<path d="M659,53.5H672V73Z" fill="url(#nt)"/>
<rect x="367" y="73.5" width="305" height="26" fill="#00ffff"/>
<rect x="367" y="53.5" width="305" height="20" fill="none" stroke="#1a9cf0" stroke-width="1.8" stroke-dasharray="6,2.5,1.5,2.5"/>
<text x="430.5" y="68.5" font-size="16.6" text-anchor="start" fill="#000" textLength="171" lengthAdjust="spacingAndGlyphs">I. Thermal gradient effect</text>
<path d="M643.4,60.3H653.6L647.0,70.3Z" fill="none" stroke="#000" stroke-width="1.3" stroke-linejoin="round"/>
<text x="651.8" y="70.2" font-size="16.6" text-anchor="start" fill="#000" font-style="italic">T</text>
<text x="367.5" y="97.9" font-size="17.5" text-anchor="start" fill="#1868c0" textLength="166" lengthAdjust="spacingAndGlyphs">Blank microcantilever</text>
<path d="M404.09999999999997,112.6H414.7V133.4H419.5L409.4,143.8L399.29999999999995,133.4H404.09999999999997Z" fill="none" stroke="#23a84a" stroke-width="1.3" stroke-dasharray="2.6,1.6"/>
<path d="M519.2,112.6H529.8V133.4H534.6L524.5,143.8L514.4,133.4H519.2Z" fill="none" stroke="#23a84a" stroke-width="1.3" stroke-dasharray="2.6,1.6"/>
<path d="M634.7,112.6H645.3V133.4H650.1L640,143.8L629.9,133.4H634.7Z" fill="none" stroke="#23a84a" stroke-width="1.3" stroke-dasharray="2.6,1.6"/>
<rect x="367" y="145.5" width="305" height="18.7" fill="#ffff00"/>
<rect x="367" y="164.2" width="305" height="44.4" fill="#00ffff"/>
<rect x="367" y="145.5" width="305" height="37.5" fill="none" stroke="#ec7c34" stroke-width="1.8" stroke-dasharray="6,2.5,1.5,2.5"/>
<text x="368.3" y="161" font-size="17.5" text-anchor="start" fill="#ff0000" textLength="67.6" lengthAdjust="spacingAndGlyphs">Gold Film</text>
<text x="442.6" y="168.1" font-size="16.6" text-anchor="start" fill="#000" textLength="138" lengthAdjust="spacingAndGlyphs">II. Bi-material effect</text>
<text x="369.5" y="208" font-size="17.5" text-anchor="start" fill="#1868c0" textLength="196.5" lengthAdjust="spacingAndGlyphs">As-coated microcantilever</text>
<path d="M404.09999999999997,223H414.7V244H419.5L409.4,254L399.29999999999995,244H404.09999999999997Z" fill="none" stroke="#23a84a" stroke-width="1.3" stroke-dasharray="2.6,1.6"/>
<path d="M519.2,223H529.8V244H534.6L524.5,254L514.4,244H519.2Z" fill="none" stroke="#23a84a" stroke-width="1.3" stroke-dasharray="2.6,1.6"/>
<path d="M634.7,223H645.3V244H650.1L640,254L629.9,244H634.7Z" fill="none" stroke="#23a84a" stroke-width="1.3" stroke-dasharray="2.6,1.6"/>
<rect x="367" y="281" width="305" height="45.5" fill="#00ffff"/>
<path d="M367,281V262Q372,256 390,256Q418,256 422.8,281Z" fill="#ffff00"/>
<rect x="423" y="281.3" width="177" height="18.5" fill="url(#pk)"/>
<rect x="423" y="281.3" width="177" height="18.5" fill="none" stroke="#1a9cf0" stroke-width="1.8" stroke-dasharray="6,2.5,1.5,2.5"/>
<text x="369.4" y="276.3" font-size="17.5" text-anchor="start" fill="#ff0000" textLength="45.6" lengthAdjust="spacingAndGlyphs">Au NP</text>
<text x="426.2" y="294.8" font-size="16.6" text-anchor="start" fill="#000" textLength="171" lengthAdjust="spacingAndGlyphs">I. Thermal gradient effect</text>
<text x="368.3" y="324.5" font-size="17.5" text-anchor="start" fill="#1868c0" textLength="198" lengthAdjust="spacingAndGlyphs">NP-coated microcantilever</text>
<path d="M603.9,281.3A33.2,23.6 0 0 1 670.3,281.3Z" fill="#ffff00"/>
<rect x="601" y="257.3" width="70.4" height="65.3" fill="none" stroke="#ec7c34" stroke-width="1.8" stroke-dasharray="6,2.5,1.5,2.5"/>
<text x="619.2" y="276.3" font-size="15.8" text-anchor="start" fill="#ff0000" textLength="38.8" lengthAdjust="spacingAndGlyphs">LSPR</text>
<path d="M612.3,268.8h4.4M614.5,266.6v4.4M607.5999999999999,274.3h4.4M609.8,272.1v4.4M612.0,277.6h4.4M614.2,275.40000000000003v4.4M660.4,270h3.2M664.4,274.4h3.2M660.4,279h3.2" stroke="#ff0000" stroke-width="1.2" fill="none"/>
<text x="637.3" y="292.3" font-size="15.5" text-anchor="middle" fill="#000">II</text>
<text x="603.4" y="303" font-size="15.5" text-anchor="start" fill="#000" textLength="67.2" lengthAdjust="spacingAndGlyphs">Bi-material</text>
<text x="637" y="320.8" font-size="15.5" text-anchor="middle" fill="#000">effect</text>
</g>
<g font-family="Liberation Serif, serif">
<text x="2.5" y="377.8" font-size="29" text-anchor="start" fill="#000">(c)</text>
<text x="49.9" y="670.1" font-size="18.4" text-anchor="end" fill="#000">0.0</text>
<text x="49.9" y="595.9" font-size="18.4" text-anchor="end" fill="#000">0.2</text>
<text x="49.9" y="521.7" font-size="18.4" text-anchor="end" fill="#000">0.4</text>
<text x="49.9" y="447.5" font-size="18.4" text-anchor="end" fill="#000">0.6</text>
<text x="69.5" y="693.6" font-size="18.8" text-anchor="middle" fill="#000">12k</text>
<text x="100.95" y="693.6" font-size="18.8" text-anchor="middle" fill="#000">13k</text>
<text x="132.39999999999998" y="693.6" font-size="18.8" text-anchor="middle" fill="#000">14k</text>
<text x="163.84999999999997" y="693.6" font-size="18.8" text-anchor="middle" fill="#000">15k</text>
<text x="195.29999999999998" y="693.6" font-size="18.8" text-anchor="middle" fill="#000">16k</text>
<text x="226.75" y="693.6" font-size="18.8" text-anchor="middle" fill="#000">17k</text>
<text x="258.2" y="693.6" font-size="18.8" text-anchor="middle" fill="#000">18k</text>
<text x="105.5" y="709.7" font-size="17" text-anchor="start" fill="#000" textLength="119.5" lengthAdjust="spacingAndGlyphs">Frequency (Hz)</text>
<text transform="translate(18.9,590) rotate(-90)" font-size="20" font-style="italic">Z</text>
<text transform="translate(22.7,578.6) rotate(-90)" font-size="14.3" font-style="italic" textLength="61" lengthAdjust="spacingAndGlyphs">NP-coated</text>
<text transform="translate(19.3,511.8) rotate(-90)" font-size="19.5" textLength="37.5" lengthAdjust="spacingAndGlyphs">(nm)</text>
<clipPath id="cc"><rect x="55.4" y="386" width="220.79999999999998" height="289.6"/></clipPath>
<g clip-path="url(#cc)">
<path d="M73.07,661.21 L73.46,660.96 L73.85,661.08 L74.24,661.35 L74.62,661.70 L75.01,661.45 L75.40,660.40 L75.79,659.37 L76.17,659.95 L76.56,660.87 L76.95,661.06 L77.34,661.30 L77.72,661.41 L78.11,661.01 L78.50,660.63 L78.88,660.49 L79.27,660.38 L79.66,660.58 L80.05,660.40 L80.43,659.89 L80.82,660.23 L81.21,660.85 L81.60,660.78 L81.98,660.08 L82.37,659.79 L82.76,660.45 L83.15,660.65 L83.53,660.51 L83.92,660.94 L84.31,660.83 L84.70,660.25 L85.08,660.23 L85.47,660.39 L85.86,661.01 L86.24,661.58 L86.63,661.09 L87.02,661.27 L87.41,661.60 L87.79,660.80 L88.18,660.43 L88.57,660.99 L88.96,661.28 L89.34,660.94 L89.73,660.41 L90.12,659.93 L90.51,660.02 L90.89,660.21 L91.28,660.21 L91.67,660.75 L92.06,661.03 L92.44,660.52 L92.83,660.36 L93.22,660.84 L93.61,661.05 L93.99,661.33 L94.38,661.61 L94.77,660.84 L95.15,660.69 L95.54,661.30 L95.93,661.23 L96.32,660.91 L96.70,660.98 L97.09,661.57 L97.48,661.31 L97.87,660.22 L98.25,660.37 L98.64,661.34 L99.03,661.13 L99.42,660.57 L99.80,660.28 L100.19,660.09 L100.58,660.46 L100.97,660.66 L101.35,660.35 L101.74,659.85 L102.13,659.97 L102.51,660.70 L102.90,660.57 L103.29,659.52 L103.68,659.13 L104.06,659.20 L104.45,659.16 L104.84,659.59 L105.23,660.19 L105.61,660.43 L106.00,659.93 L106.39,659.55 L106.78,660.08 L107.16,660.22 L107.55,659.73 L107.94,659.30 L108.33,659.38 L108.71,660.17 L109.10,660.36 L109.49,659.38 L109.88,658.51 L110.26,658.51 L110.65,658.92 L111.04,659.10 L111.42,659.01 L111.81,658.82 L112.20,658.78 L112.59,659.00 L112.97,658.94 L113.36,658.64 L113.75,658.42 L114.14,657.84 L114.52,657.05 L114.91,656.94 L115.30,657.90 L115.69,659.03 L116.07,659.06 L116.46,658.48 L116.85,658.60 L117.24,658.76 L117.62,657.81 L118.01,657.55 L118.40,658.49 L118.78,658.76 L119.17,658.36 L119.56,657.74 L119.95,656.90 L120.33,656.58 L120.72,656.97 L121.11,657.11 L121.50,656.74 L121.88,656.31 L122.27,656.20 L122.66,656.61 L123.05,657.29 L123.43,657.50 L123.82,656.99 L124.21,656.21 L124.60,656.21 L124.98,656.77 L125.37,656.76 L125.76,656.55 L126.15,656.83 L126.53,656.79 L126.92,655.67 L127.31,654.99 L127.69,655.72 L128.08,656.50 L128.47,656.78 L128.86,656.47 L129.24,655.51 L129.63,655.05 L130.02,655.18 L130.41,655.17 L130.79,655.10 L131.18,655.42 L131.57,655.82 L131.96,655.51 L132.34,655.13 L132.73,655.25 L133.12,655.32 L133.51,655.22 L133.89,654.75 L134.28,654.33 L134.67,654.51 L135.05,654.40 L135.44,653.90 L135.83,653.47 L136.22,653.83 L136.60,654.57 L136.99,654.34 L137.38,654.09 L137.77,653.90 L138.15,653.34 L138.54,653.02 L138.93,653.12 L139.32,653.13 L139.70,653.03 L140.09,653.44 L140.48,653.51 L140.87,653.27 L141.25,652.97 L141.64,652.22 L142.03,651.76 L142.42,651.85 L142.80,652.50 L143.19,652.86 L143.58,652.39 L143.96,652.12 L144.35,652.17 L144.74,651.91 L145.13,651.30 L145.51,650.95 L145.90,651.01 L146.29,650.91 L146.68,651.14 L147.06,651.40 L147.45,651.26 L147.84,650.93 L148.23,650.07 L148.61,649.39 L149.00,649.30 L149.39,648.90 L149.78,648.48 L150.16,648.70 L150.55,648.96 L150.94,649.31 L151.32,649.29 L151.71,648.90 L152.10,648.75 L152.49,648.17 L152.87,647.45 L153.26,647.12 L153.65,647.31 L154.04,647.37 L154.42,646.94 L154.81,646.70 L155.20,646.38 L155.59,645.90 L155.97,645.59 L156.36,645.43 L156.75,645.19 L157.14,645.06 L157.52,644.89 L157.91,644.20 L158.30,643.20 L158.68,641.82 L159.07,641.38 L159.46,641.66 L159.85,640.65 L160.23,639.46 L160.62,638.38 L161.01,636.80 L161.40,635.80 L161.78,634.86 L162.17,633.07 L162.56,631.29 L162.95,630.22 L163.33,629.25 L163.72,627.77 L164.11,626.82 L164.50,626.59 L164.88,625.75 L165.27,624.68 L165.66,623.59 L166.05,622.55 L166.43,622.80 L166.82,623.74 L167.21,624.14 L167.59,623.86 L167.98,624.01 L168.37,625.46 L168.76,626.82 L169.14,627.79 L169.53,628.53 L169.92,629.48 L170.31,631.60 L170.69,633.75 L171.08,635.68 L171.47,637.99 L171.86,639.75 L172.24,640.54 L172.63,641.42 L173.02,642.54 L173.41,643.37 L173.79,643.64 L174.18,643.30 L174.57,643.21 L174.95,643.43 L175.34,643.68 L175.73,644.22 L176.12,644.73 L176.50,644.86 L176.89,645.24 L177.28,645.74 L177.67,645.74 L178.05,645.88 L178.44,646.69 L178.83,647.27 L179.22,647.00 L179.60,647.03 L179.99,647.99 L180.38,648.73 L180.77,648.73 L181.15,649.12 L181.54,649.97 L181.93,649.77 L182.32,649.62 L182.70,650.07 L183.09,649.95 L183.48,650.34 L183.86,651.09 L184.25,651.60 L184.64,652.20 L185.03,651.83 L185.41,651.36 L185.80,651.62 L186.19,651.63 L186.58,651.83 L186.96,652.18 L187.35,653.05 L187.74,654.09 L188.13,653.86 L188.51,653.63 L188.90,654.28 L189.29,654.46 L189.68,654.15 L190.06,654.63 L190.45,655.28 L190.84,654.90 L191.22,654.48 L191.61,654.60 L192.00,654.34 L192.39,654.30 L192.77,655.31 L193.16,656.42 L193.55,656.70 L193.94,656.20 L194.32,655.89 L194.71,656.14 L195.10,656.61 L195.49,657.06 L195.87,657.35 L196.26,657.72 L196.65,658.26 L197.04,658.94 L197.42,659.24 L197.81,659.15 L198.20,659.33 L198.59,659.21 L198.97,658.78 L199.36,658.22 L199.75,657.61 L200.13,658.27 L200.52,659.16 L200.91,659.03 L201.30,659.18 L201.68,659.39 L202.07,659.28 L202.46,660.27 L202.85,660.88 L203.23,660.03 L203.62,659.36 L204.01,659.25 L204.40,659.88 L204.78,660.02 L205.17,659.53 L205.56,659.83 L205.95,659.60 L206.33,659.08 L206.72,659.47 L207.11,659.83 L207.49,659.65 L207.88,659.67 L208.27,659.94 L208.66,659.71 L209.04,659.04 L209.43,658.88 L209.82,659.82 L210.21,660.32 L210.59,659.99 L210.98,659.99 L211.37,659.99 L211.76,659.70 L212.14,659.70 L212.53,660.17 L212.92,660.89 L213.31,661.51 L213.69,660.79 L214.08,659.86 L214.47,660.32 L214.86,660.96 L215.24,660.81 L215.63,660.23 L216.02,660.32 L216.40,660.62 L216.79,660.21 L217.18,659.88 L217.57,660.07 L217.95,660.07 L218.34,659.63 L218.73,659.82 L219.12,660.45 L219.50,660.70 L219.89,660.43 L220.28,660.15 L220.67,660.12 L221.05,659.89 L221.44,659.66 L221.83,659.56 L222.22,659.83 L222.60,660.77 L222.99,661.30 L223.38,660.64 L223.76,660.09 L224.15,660.18 L224.54,660.39 L224.93,660.76 L225.31,661.09 L225.70,660.83 L226.09,660.22 L226.48,660.40 L226.86,661.17 L227.25,661.44 L227.64,660.78 L228.03,660.05 L228.41,660.42 L228.80,660.72 L229.19,660.06 L229.58,659.72 L229.96,660.00 L230.35,660.14 L230.74,660.20 L231.13,660.38 L231.51,660.80 L231.90,660.97 L232.29,660.63 L232.67,660.34 L233.06,660.77 L233.45,661.62 L233.84,661.29 L234.22,660.90 L234.61,661.29 L235.00,661.22 L235.39,660.99 L235.77,661.30 L236.16,661.79 L236.55,661.65 L236.94,661.03 L237.32,660.97 L237.71,661.48 L238.10,661.77 L238.49,661.57 L238.87,661.68 L239.26,662.52 L239.65,662.82 L240.03,662.54 L240.42,662.68 L240.81,662.60 L241.20,662.13 L241.58,662.17 L241.97,662.38 L242.36,662.49 L242.75,662.72 L243.13,662.75 L243.52,663.13 L243.91,663.06 L244.30,662.40 L244.68,662.55 L245.07,662.89 L245.46,662.64 L245.85,662.29 L246.23,662.34 L246.62,662.22 L247.01,662.15 L247.39,662.65 L247.78,662.97 L248.17,662.58 L248.56,661.90 L248.94,661.55 L249.33,661.77 L249.72,662.33 L250.11,662.47 L250.49,662.34 L250.88,662.42 L251.27,662.19 L251.66,662.29 L252.04,662.83 L252.43,662.89 L252.82,662.37 L253.21,661.38 L253.59,661.19 L253.98,662.18 L254.37,663.25 L254.76,663.70 L255.14,663.16 L255.53,662.94 L255.92,663.06 L256.30,663.00 L256.69,663.34 L257.08,663.18 L257.47,663.04 L257.85,663.11 L258.24,662.44 L258.63,662.43" stroke="#800080" stroke-width="3.3" fill="none" stroke-linejoin="round"/>
<path d="M73.07,652.21 L73.46,652.05 L73.85,651.82 L74.24,651.61 L74.62,651.34 L75.01,651.07 L75.40,650.72 L75.79,650.70 L76.17,650.89 L76.56,650.80 L76.95,650.72 L77.34,651.18 L77.72,651.55 L78.11,651.29 L78.50,650.93 L78.88,650.79 L79.27,650.97 L79.66,651.10 L80.05,650.87 L80.43,650.70 L80.82,651.05 L81.21,651.34 L81.60,651.33 L81.98,651.36 L82.37,651.27 L82.76,651.12 L83.15,650.71 L83.53,650.43 L83.92,650.77 L84.31,650.97 L84.70,650.75 L85.08,650.74 L85.47,651.06 L85.86,651.04 L86.24,650.58 L86.63,650.32 L87.02,650.45 L87.41,650.71 L87.79,650.63 L88.18,650.03 L88.57,649.63 L88.96,649.84 L89.34,650.00 L89.73,650.14 L90.12,650.42 L90.51,650.40 L90.89,650.15 L91.28,649.96 L91.67,650.13 L92.06,650.13 L92.44,649.38 L92.83,649.06 L93.22,649.42 L93.61,649.46 L93.99,649.22 L94.38,649.35 L94.77,649.41 L95.15,649.03 L95.54,648.85 L95.93,648.76 L96.32,648.90 L96.70,649.18 L97.09,648.98 L97.48,648.86 L97.87,649.17 L98.25,649.29 L98.64,649.42 L99.03,649.30 L99.42,648.56 L99.80,648.33 L100.19,648.36 L100.58,648.32 L100.97,648.57 L101.35,648.22 L101.74,647.48 L102.13,647.85 L102.51,649.12 L102.90,649.54 L103.29,648.53 L103.68,647.63 L104.06,647.67 L104.45,647.63 L104.84,647.49 L105.23,647.59 L105.61,647.30 L106.00,646.91 L106.39,646.86 L106.78,647.03 L107.16,647.12 L107.55,647.00 L107.94,646.77 L108.33,646.07 L108.71,645.83 L109.10,646.88 L109.49,647.52 L109.88,646.95 L110.26,646.18 L110.65,645.70 L111.04,645.76 L111.42,646.25 L111.81,646.08 L112.20,645.64 L112.59,645.57 L112.97,645.31 L113.36,645.07 L113.75,644.83 L114.14,644.54 L114.52,644.40 L114.91,644.56 L115.30,644.82 L115.69,644.63 L116.07,644.36 L116.46,644.04 L116.85,643.83 L117.24,644.14 L117.62,644.43 L118.01,644.33 L118.40,643.91 L118.78,643.64 L119.17,643.55 L119.56,643.18 L119.95,643.12 L120.33,643.50 L120.72,643.56 L121.11,643.00 L121.50,642.84 L121.88,642.91 L122.27,642.06 L122.66,641.43 L123.05,641.55 L123.43,641.18 L123.82,640.50 L124.21,640.71 L124.60,641.25 L124.98,641.12 L125.37,640.81 L125.76,640.99 L126.15,641.00 L126.53,640.37 L126.92,639.98 L127.31,639.80 L127.69,639.40 L128.08,639.12 L128.47,639.24 L128.86,639.19 L129.24,638.50 L129.63,638.09 L130.02,638.05 L130.41,637.76 L130.79,637.77 L131.18,637.67 L131.57,637.29 L131.96,637.18 L132.34,636.96 L132.73,636.73 L133.12,636.65 L133.51,636.67 L133.89,636.17 L134.28,635.28 L134.67,634.94 L135.05,634.87 L135.44,634.55 L135.83,634.30 L136.22,634.37 L136.60,634.08 L136.99,633.48 L137.38,633.17 L137.77,632.79 L138.15,632.22 L138.54,631.80 L138.93,631.16 L139.32,630.28 L139.70,629.77 L140.09,629.61 L140.48,629.65 L140.87,629.74 L141.25,629.49 L141.64,629.09 L142.03,628.74 L142.42,627.80 L142.80,626.43 L143.19,625.49 L143.58,625.31 L143.96,625.22 L144.35,624.70 L144.74,624.02 L145.13,623.23 L145.51,622.47 L145.90,621.37 L146.29,620.25 L146.68,619.60 L147.06,619.06 L147.45,618.91 L147.84,618.42 L148.23,617.12 L148.61,616.32 L149.00,616.10 L149.39,615.70 L149.78,615.04 L150.16,613.81 L150.55,612.49 L150.94,611.76 L151.32,611.24 L151.71,610.28 L152.10,608.71 L152.49,607.21 L152.87,606.13 L153.26,605.35 L153.65,604.17 L154.04,602.43 L154.42,601.19 L154.81,599.95 L155.20,598.67 L155.59,597.58 L155.97,595.75 L156.36,593.65 L156.75,591.57 L157.14,589.48 L157.52,588.10 L157.91,586.81 L158.30,584.58 L158.68,582.08 L159.07,580.11 L159.46,578.46 L159.85,576.21 L160.23,573.27 L160.62,570.67 L161.01,568.70 L161.40,566.28 L161.78,563.66 L162.17,561.67 L162.56,558.62 L162.95,555.19 L163.33,552.92 L163.72,550.90 L164.11,548.48 L164.50,546.04 L164.88,544.14 L165.27,542.21 L165.66,540.62 L166.05,539.51 L166.43,538.74 L166.82,539.29 L167.21,540.66 L167.59,542.45 L167.98,544.94 L168.37,547.65 L168.76,550.85 L169.14,554.69 L169.53,558.52 L169.92,562.10 L170.31,565.39 L170.69,568.61 L171.08,572.02 L171.47,575.31 L171.86,578.61 L172.24,581.64 L172.63,584.34 L173.02,587.19 L173.41,589.46 L173.79,591.64 L174.18,594.38 L174.57,596.90 L174.95,599.13 L175.34,601.17 L175.73,603.01 L176.12,604.63 L176.50,606.11 L176.89,607.32 L177.28,608.53 L177.67,610.17 L178.05,611.83 L178.44,613.42 L178.83,615.03 L179.22,616.68 L179.60,618.00 L179.99,618.43 L180.38,618.90 L180.77,620.26 L181.15,621.44 L181.54,622.20 L181.93,623.50 L182.32,624.91 L182.70,625.96 L183.09,626.68 L183.48,626.81 L183.86,627.06 L184.25,628.28 L184.64,629.53 L185.03,630.13 L185.41,630.81 L185.80,631.54 L186.19,631.67 L186.58,631.79 L186.96,632.30 L187.35,633.10 L187.74,634.24 L188.13,634.68 L188.51,634.26 L188.90,634.73 L189.29,635.81 L189.68,636.16 L190.06,636.29 L190.45,636.65 L190.84,637.24 L191.22,637.84 L191.61,638.16 L192.00,638.50 L192.39,639.28 L192.77,640.49 L193.16,641.19 L193.55,641.14 L193.94,641.08 L194.32,640.83 L194.71,640.73 L195.10,641.19 L195.49,641.67 L195.87,641.70 L196.26,641.83 L196.65,642.26 L197.04,642.32 L197.42,642.44 L197.81,642.68 L198.20,642.98 L198.59,643.48 L198.97,643.85 L199.36,644.42 L199.75,644.97 L200.13,645.03 L200.52,645.05 L200.91,645.32 L201.30,645.65 L201.68,645.72 L202.07,645.26 L202.46,645.09 L202.85,645.44 L203.23,645.59 L203.62,645.62 L204.01,645.79 L204.40,646.67 L204.78,647.24 L205.17,646.96 L205.56,647.34 L205.95,648.05 L206.33,648.44 L206.72,648.66 L207.11,648.68 L207.49,648.52 L207.88,648.15 L208.27,648.57 L208.66,649.63 L209.04,649.98 L209.43,650.03 L209.82,650.17 L210.21,649.92 L210.59,649.85 L210.98,650.17 L211.37,650.17 L211.76,649.75 L212.14,649.38 L212.53,649.57 L212.92,650.03 L213.31,650.39 L213.69,650.72 L214.08,650.96 L214.47,651.07 L214.86,651.20 L215.24,651.66 L215.63,651.87 L216.02,651.55 L216.40,651.68 L216.79,652.24 L217.18,652.29 L217.57,652.04 L217.95,652.20 L218.34,652.51 L218.73,652.55 L219.12,652.34 L219.50,652.09 L219.89,652.50 L220.28,653.49 L220.67,653.80 L221.05,653.08 L221.44,652.59 L221.83,652.71 L222.22,652.95 L222.60,653.52 L222.99,653.78 L223.38,653.43 L223.76,653.29 L224.15,653.64 L224.54,654.05 L224.93,654.09 L225.31,653.93 L225.70,653.89 L226.09,654.18 L226.48,654.48 L226.86,654.23 L227.25,653.88 L227.64,654.17 L228.03,654.74 L228.41,655.02 L228.80,654.70 L229.19,654.47 L229.58,655.04 L229.96,655.07 L230.35,654.38 L230.74,654.24 L231.13,654.50 L231.51,654.50 L231.90,654.40 L232.29,654.57 L232.67,654.67 L233.06,654.63 L233.45,654.73 L233.84,655.07 L234.22,655.50 L234.61,655.75 L235.00,656.30 L235.39,656.53 L235.77,656.23 L236.16,656.22 L236.55,656.35 L236.94,656.26 L237.32,655.95 L237.71,656.27 L238.10,656.73 L238.49,656.40 L238.87,656.24 L239.26,656.47 L239.65,656.08 L240.03,655.56 L240.42,655.86 L240.81,656.46 L241.20,656.63 L241.58,656.72 L241.97,657.52 L242.36,658.03 L242.75,657.62 L243.13,656.96 L243.52,656.42 L243.91,656.73 L244.30,657.46 L244.68,657.49 L245.07,657.25 L245.46,657.42 L245.85,657.53 L246.23,657.34 L246.62,657.24 L247.01,657.25 L247.39,657.09 L247.78,656.68 L248.17,656.97 L248.56,657.39 L248.94,657.03 L249.33,657.05 L249.72,657.52 L250.11,657.91 L250.49,657.99 L250.88,657.95 L251.27,657.94 L251.66,657.80 L252.04,658.06 L252.43,658.51 L252.82,658.36 L253.21,657.94 L253.59,657.98 L253.98,658.32 L254.37,658.45 L254.76,658.56 L255.14,658.91 L255.53,658.67 L255.92,658.11 L256.30,658.24 L256.69,658.60 L257.08,658.51 L257.47,657.95 L257.85,657.85 L258.24,658.36 L258.63,658.70" stroke="#000080" stroke-width="3.3" fill="none" stroke-linejoin="round"/>
<path d="M73.07,648.74 L73.46,648.33 L73.85,647.85 L74.24,647.36 L74.62,647.66 L75.01,648.19 L75.40,647.83 L75.79,647.45 L76.17,647.64 L76.56,647.51 L76.95,647.11 L77.34,646.92 L77.72,647.15 L78.11,647.40 L78.50,647.26 L78.88,647.04 L79.27,646.92 L79.66,646.70 L80.05,646.48 L80.43,646.68 L80.82,646.97 L81.21,647.06 L81.60,646.95 L81.98,646.79 L82.37,646.60 L82.76,646.54 L83.15,646.91 L83.53,646.89 L83.92,646.49 L84.31,646.65 L84.70,646.66 L85.08,646.13 L85.47,646.46 L85.86,647.21 L86.24,646.76 L86.63,645.91 L87.02,645.84 L87.41,645.84 L87.79,645.68 L88.18,645.93 L88.57,645.99 L88.96,645.72 L89.34,645.51 L89.73,645.17 L90.12,645.09 L90.51,645.13 L90.89,645.13 L91.28,645.46 L91.67,645.28 L92.06,644.78 L92.44,644.77 L92.83,644.90 L93.22,645.12 L93.61,645.20 L93.99,644.97 L94.38,644.83 L94.77,644.79 L95.15,644.55 L95.54,644.08 L95.93,643.88 L96.32,643.96 L96.70,643.82 L97.09,643.87 L97.48,644.46 L97.87,644.32 L98.25,643.27 L98.64,642.93 L99.03,643.22 L99.42,643.41 L99.80,643.73 L100.19,643.68 L100.58,643.37 L100.97,643.17 L101.35,642.83 L101.74,642.70 L102.13,642.28 L102.51,641.50 L102.90,641.52 L103.29,641.94 L103.68,642.13 L104.06,642.45 L104.45,642.41 L104.84,641.77 L105.23,641.52 L105.61,641.73 L106.00,641.67 L106.39,641.77 L106.78,642.02 L107.16,641.52 L107.55,640.97 L107.94,641.03 L108.33,640.96 L108.71,640.91 L109.10,640.95 L109.49,640.41 L109.88,639.87 L110.26,639.72 L110.65,639.97 L111.04,640.50 L111.42,640.74 L111.81,640.71 L112.20,640.63 L112.59,640.18 L112.97,639.35 L113.36,639.11 L113.75,639.36 L114.14,639.45 L114.52,639.62 L114.91,639.64 L115.30,639.70 L115.69,639.61 L116.07,639.02 L116.46,638.66 L116.85,638.66 L117.24,638.67 L117.62,638.49 L118.01,638.13 L118.40,637.77 L118.78,637.56 L119.17,637.41 L119.56,636.89 L119.95,636.20 L120.33,635.72 L120.72,635.60 L121.11,635.87 L121.50,636.32 L121.88,636.38 L122.27,635.57 L122.66,634.60 L123.05,634.82 L123.43,635.70 L123.82,635.56 L124.21,635.05 L124.60,634.79 L124.98,634.29 L125.37,633.98 L125.76,633.85 L126.15,633.77 L126.53,633.83 L126.92,633.59 L127.31,632.87 L127.69,632.39 L128.08,632.39 L128.47,631.86 L128.86,631.11 L129.24,630.75 L129.63,630.50 L130.02,630.32 L130.41,629.77 L130.79,628.85 L131.18,628.21 L131.57,628.01 L131.96,627.89 L132.34,627.86 L132.73,627.45 L133.12,626.74 L133.51,626.32 L133.89,625.95 L134.28,625.45 L134.67,624.68 L135.05,624.52 L135.44,624.72 L135.83,624.20 L136.22,623.81 L136.60,623.71 L136.99,623.32 L137.38,622.99 L137.77,622.91 L138.15,622.60 L138.54,621.85 L138.93,620.86 L139.32,619.95 L139.70,619.40 L140.09,619.14 L140.48,619.15 L140.87,618.76 L141.25,617.70 L141.64,616.80 L142.03,615.98 L142.42,615.23 L142.80,614.95 L143.19,614.90 L143.58,614.43 L143.96,613.20 L144.35,612.28 L144.74,611.64 L145.13,610.81 L145.51,610.17 L145.90,608.95 L146.29,607.35 L146.68,606.40 L147.06,605.65 L147.45,604.76 L147.84,603.95 L148.23,602.79 L148.61,601.56 L149.00,600.82 L149.39,600.03 L149.78,599.11 L150.16,598.49 L150.55,597.89 L150.94,596.22 L151.32,593.68 L151.71,592.09 L152.10,591.27 L152.49,589.90 L152.87,588.39 L153.26,586.81 L153.65,585.03 L154.04,583.80 L154.42,582.79 L154.81,580.93 L155.20,578.24 L155.59,575.82 L155.97,573.96 L156.36,572.24 L156.75,570.07 L157.14,567.60 L157.52,564.88 L157.91,561.69 L158.30,558.86 L158.68,556.72 L159.07,554.45 L159.46,551.35 L159.85,548.14 L160.23,545.27 L160.62,542.27 L161.01,539.32 L161.40,536.33 L161.78,532.62 L162.17,529.05 L162.56,526.12 L162.95,522.69 L163.33,519.27 L163.72,516.40 L164.11,513.46 L164.50,510.60 L164.88,507.88 L165.27,505.44 L165.66,503.29 L166.05,501.47 L166.43,500.41 L166.82,500.93 L167.21,502.31 L167.59,503.73 L167.98,506.46 L168.37,510.04 L168.76,513.27 L169.14,516.75 L169.53,520.73 L169.92,524.64 L170.31,528.32 L170.69,532.12 L171.08,536.05 L171.47,539.68 L171.86,543.32 L172.24,546.89 L172.63,550.24 L173.02,554.02 L173.41,557.66 L173.79,560.56 L174.18,563.44 L174.57,566.38 L174.95,568.74 L175.34,570.99 L175.73,573.83 L176.12,576.63 L176.50,578.86 L176.89,580.88 L177.28,583.29 L177.67,585.84 L178.05,587.73 L178.44,589.02 L178.83,590.82 L179.22,593.12 L179.60,594.64 L179.99,595.56 L180.38,597.13 L180.77,599.19 L181.15,600.51 L181.54,601.56 L181.93,603.14 L182.32,604.65 L182.70,606.04 L183.09,607.29 L183.48,608.09 L183.86,609.20 L184.25,610.57 L184.64,611.25 L185.03,611.84 L185.41,612.85 L185.80,613.97 L186.19,614.95 L186.58,615.81 L186.96,616.62 L187.35,617.30 L187.74,618.46 L188.13,619.72 L188.51,620.45 L188.90,621.02 L189.29,621.64 L189.68,622.28 L190.06,622.63 L190.45,622.78 L190.84,623.31 L191.22,623.97 L191.61,624.57 L192.00,625.60 L192.39,626.54 L192.77,626.83 L193.16,627.16 L193.55,628.09 L193.94,628.47 L194.32,627.99 L194.71,627.96 L195.10,628.97 L195.49,630.19 L195.87,630.48 L196.26,630.52 L196.65,631.35 L197.04,632.25 L197.42,632.74 L197.81,633.30 L198.20,633.19 L198.59,632.62 L198.97,633.28 L199.36,634.62 L199.75,635.03 L200.13,634.93 L200.52,635.12 L200.91,635.47 L201.30,635.95 L201.68,636.27 L202.07,636.59 L202.46,637.40 L202.85,638.08 L203.23,638.19 L203.62,638.10 L204.01,638.10 L204.40,638.23 L204.78,638.36 L205.17,638.65 L205.56,638.87 L205.95,638.47 L206.33,638.39 L206.72,639.09 L207.11,639.46 L207.49,639.46 L207.88,639.78 L208.27,640.32 L208.66,640.84 L209.04,641.40 L209.43,641.57 L209.82,641.18 L210.21,641.31 L210.59,642.05 L210.98,642.28 L211.37,642.36 L211.76,642.82 L212.14,643.22 L212.53,643.65 L212.92,644.02 L213.31,643.90 L213.69,643.47 L214.08,643.10 L214.47,643.49 L214.86,644.24 L215.24,644.22 L215.63,643.76 L216.02,643.88 L216.40,644.56 L216.79,645.24 L217.18,645.66 L217.57,645.59 L217.95,645.56 L218.34,645.43 L218.73,645.43 L219.12,646.06 L219.50,646.14 L219.89,645.82 L220.28,645.67 L220.67,645.92 L221.05,646.79 L221.44,647.10 L221.83,646.85 L222.22,646.92 L222.60,647.28 L222.99,647.30 L223.38,647.22 L223.76,647.65 L224.15,647.61 L224.54,646.90 L224.93,646.70 L225.31,647.33 L225.70,648.15 L226.09,648.57 L226.48,648.76 L226.86,648.86 L227.25,648.53 L227.64,648.17 L228.03,648.55 L228.41,649.20 L228.80,649.58 L229.19,649.46 L229.58,649.42 L229.96,649.85 L230.35,650.03 L230.74,650.27 L231.13,650.61 L231.51,650.38 L231.90,649.90 L232.29,649.46 L232.67,649.42 L233.06,650.31 L233.45,650.78 L233.84,650.33 L234.22,650.31 L234.61,650.99 L235.00,651.25 L235.39,650.63 L235.77,650.48 L236.16,650.95 L236.55,651.19 L236.94,651.24 L237.32,651.42 L237.71,651.54 L238.10,651.36 L238.49,651.27 L238.87,651.65 L239.26,651.73 L239.65,651.44 L240.03,651.61 L240.42,651.97 L240.81,651.98 L241.20,652.00 L241.58,652.25 L241.97,652.00 L242.36,651.67 L242.75,652.25 L243.13,653.08 L243.52,653.30 L243.91,653.25 L244.30,653.63 L244.68,653.94 L245.07,653.86 L245.46,653.59 L245.85,653.46 L246.23,653.49 L246.62,653.33 L247.01,653.54 L247.39,653.62 L247.78,653.43 L248.17,653.48 L248.56,653.73 L248.94,654.50 L249.33,654.93 L249.72,654.76 L250.11,654.80 L250.49,654.50 L250.88,654.08 L251.27,654.37 L251.66,654.88 L252.04,655.08 L252.43,654.96 L252.82,655.09 L253.21,655.30 L253.59,655.20 L253.98,655.17 L254.37,655.12 L254.76,654.91 L255.14,654.57 L255.53,654.52 L255.92,654.85 L256.30,654.94 L256.69,654.64 L257.08,654.31 L257.47,654.44 L257.85,654.82 L258.24,654.77 L258.63,654.93" stroke="#1a80c0" stroke-width="3.3" fill="none" stroke-linejoin="round"/>
<path d="M73.07,643.83 L73.46,643.58 L73.85,643.47 L74.24,643.77 L74.62,644.19 L75.01,643.64 L75.40,643.22 L75.79,643.68 L76.17,643.88 L76.56,643.97 L76.95,643.95 L77.34,643.44 L77.72,643.00 L78.11,642.94 L78.50,642.93 L78.88,643.19 L79.27,643.49 L79.66,643.09 L80.05,642.83 L80.43,642.97 L80.82,643.05 L81.21,642.84 L81.60,642.51 L81.98,642.81 L82.37,643.01 L82.76,642.63 L83.15,642.40 L83.53,641.98 L83.92,641.58 L84.31,641.78 L84.70,641.58 L85.08,641.41 L85.47,641.96 L85.86,641.83 L86.24,641.19 L86.63,640.79 L87.02,640.93 L87.41,641.51 L87.79,641.63 L88.18,641.64 L88.57,641.84 L88.96,642.03 L89.34,641.94 L89.73,641.31 L90.12,641.10 L90.51,641.28 L90.89,641.14 L91.28,641.30 L91.67,641.90 L92.06,641.85 L92.44,640.88 L92.83,640.50 L93.22,640.85 L93.61,641.11 L93.99,641.03 L94.38,640.57 L94.77,640.26 L95.15,640.11 L95.54,640.28 L95.93,640.79 L96.32,640.67 L96.70,640.29 L97.09,640.26 L97.48,639.77 L97.87,639.53 L98.25,639.76 L98.64,639.51 L99.03,639.24 L99.42,639.29 L99.80,639.40 L100.19,639.20 L100.58,638.58 L100.97,638.08 L101.35,638.10 L101.74,638.51 L102.13,638.72 L102.51,638.49 L102.90,638.31 L103.29,638.08 L103.68,637.60 L104.06,637.24 L104.45,637.18 L104.84,637.29 L105.23,637.06 L105.61,636.86 L106.00,637.07 L106.39,636.74 L106.78,636.23 L107.16,636.19 L107.55,635.92 L107.94,635.37 L108.33,634.97 L108.71,635.37 L109.10,636.01 L109.49,635.73 L109.88,635.12 L110.26,634.83 L110.65,634.51 L111.04,634.08 L111.42,634.34 L111.81,635.00 L112.20,635.29 L112.59,634.88 L112.97,633.98 L113.36,633.79 L113.75,634.16 L114.14,634.27 L114.52,633.79 L114.91,633.26 L115.30,633.20 L115.69,633.17 L116.07,632.60 L116.46,631.97 L116.85,632.31 L117.24,632.65 L117.62,632.22 L118.01,631.73 L118.40,631.41 L118.78,631.34 L119.17,631.29 L119.56,630.81 L119.95,630.54 L120.33,630.26 L120.72,629.24 L121.11,629.13 L121.50,629.89 L121.88,629.52 L122.27,628.51 L122.66,627.83 L123.05,627.96 L123.43,628.71 L123.82,628.68 L124.21,627.87 L124.60,627.37 L124.98,627.16 L125.37,626.61 L125.76,626.00 L126.15,625.94 L126.53,626.04 L126.92,625.61 L127.31,625.19 L127.69,624.79 L128.08,624.25 L128.47,623.87 L128.86,623.54 L129.24,623.18 L129.63,622.38 L130.02,622.04 L130.41,622.28 L130.79,621.89 L131.18,621.49 L131.57,621.20 L131.96,620.40 L132.34,619.97 L132.73,619.88 L133.12,619.21 L133.51,618.50 L133.89,618.36 L134.28,617.87 L134.67,617.14 L135.05,616.93 L135.44,616.30 L135.83,615.36 L136.22,615.26 L136.60,615.41 L136.99,614.75 L137.38,613.88 L137.77,613.16 L138.15,612.32 L138.54,611.67 L138.93,611.18 L139.32,610.44 L139.70,609.46 L140.09,609.10 L140.48,608.72 L140.87,607.60 L141.25,606.86 L141.64,606.49 L142.03,606.09 L142.42,605.42 L142.80,604.24 L143.19,602.75 L143.58,601.68 L143.96,601.14 L144.35,600.34 L144.74,599.47 L145.13,598.81 L145.51,597.96 L145.90,596.67 L146.29,595.25 L146.68,594.37 L147.06,593.53 L147.45,591.99 L147.84,590.27 L148.23,589.00 L148.61,588.03 L149.00,586.37 L149.39,584.64 L149.78,583.72 L150.16,582.49 L150.55,580.83 L150.94,579.35 L151.32,577.79 L151.71,576.21 L152.10,574.34 L152.49,572.20 L152.87,570.52 L153.26,568.82 L153.65,566.56 L154.04,564.12 L154.42,561.55 L154.81,558.72 L155.20,556.33 L155.59,554.43 L155.97,552.15 L156.36,549.35 L156.75,545.93 L157.14,542.63 L157.52,539.85 L157.91,536.87 L158.30,533.62 L158.68,529.91 L159.07,525.40 L159.46,521.31 L159.85,517.72 L160.23,513.51 L160.62,509.62 L161.01,505.67 L161.40,500.72 L161.78,495.80 L162.17,491.34 L162.56,486.56 L162.95,481.59 L163.33,477.02 L163.72,472.35 L164.11,467.90 L164.50,464.24 L164.88,460.77 L165.27,457.06 L165.66,453.40 L166.05,450.94 L166.43,449.97 L166.82,449.84 L167.21,451.27 L167.59,454.46 L167.98,457.89 L168.37,461.69 L168.76,466.62 L169.14,471.99 L169.53,477.23 L169.92,482.34 L170.31,487.41 L170.69,492.78 L171.08,498.14 L171.47,503.26 L171.86,508.37 L172.24,513.26 L172.63,517.50 L173.02,521.64 L173.41,525.79 L173.79,529.66 L174.18,533.67 L174.57,537.55 L174.95,540.96 L175.34,544.44 L175.73,548.32 L176.12,551.78 L176.50,554.59 L176.89,557.27 L177.28,559.93 L177.67,562.55 L178.05,565.32 L178.44,568.05 L178.83,570.29 L179.22,572.75 L179.60,575.11 L179.99,576.71 L180.38,578.68 L180.77,580.72 L181.15,582.36 L181.54,584.36 L181.93,586.30 L182.32,587.40 L182.70,588.23 L183.09,589.51 L183.48,591.23 L183.86,593.13 L184.25,594.45 L184.64,595.20 L185.03,596.35 L185.41,598.17 L185.80,600.12 L186.19,601.21 L186.58,601.88 L186.96,603.08 L187.35,603.91 L187.74,604.04 L188.13,604.66 L188.51,606.30 L188.90,607.73 L189.29,608.44 L189.68,609.02 L190.06,609.64 L190.45,610.74 L190.84,612.33 L191.22,613.36 L191.61,613.65 L192.00,613.91 L192.39,614.51 L192.77,615.49 L193.16,616.25 L193.55,616.98 L193.94,617.39 L194.32,617.43 L194.71,618.20 L195.10,619.04 L195.49,619.67 L195.87,620.57 L196.26,621.33 L196.65,621.49 L197.04,621.50 L197.42,622.13 L197.81,622.77 L198.20,623.31 L198.59,624.19 L198.97,625.14 L199.36,625.75 L199.75,625.76 L200.13,626.00 L200.52,626.38 L200.91,626.82 L201.30,627.56 L201.68,627.98 L202.07,628.53 L202.46,628.96 L202.85,628.70 L203.23,628.82 L203.62,629.77 L204.01,630.57 L204.40,630.46 L204.78,630.06 L205.17,630.45 L205.56,630.86 L205.95,631.02 L206.33,632.14 L206.72,633.35 L207.11,633.66 L207.49,633.40 L207.88,633.32 L208.27,633.96 L208.66,634.40 L209.04,634.68 L209.43,635.02 L209.82,635.18 L210.21,635.55 L210.59,636.16 L210.98,636.63 L211.37,636.89 L211.76,637.18 L212.14,637.30 L212.53,637.23 L212.92,637.30 L213.31,637.49 L213.69,637.47 L214.08,637.52 L214.47,638.31 L214.86,638.70 L215.24,638.53 L215.63,638.82 L216.02,638.88 L216.40,638.81 L216.79,639.28 L217.18,639.52 L217.57,639.41 L217.95,639.75 L218.34,640.47 L218.73,640.91 L219.12,641.17 L219.50,641.55 L219.89,641.75 L220.28,641.67 L220.67,641.36 L221.05,641.40 L221.44,641.95 L221.83,642.41 L222.22,642.81 L222.60,643.01 L222.99,642.69 L223.38,642.33 L223.76,642.29 L224.15,642.53 L224.54,643.36 L224.93,643.86 L225.31,643.09 L225.70,642.54 L226.09,642.76 L226.48,642.96 L226.86,642.78 L227.25,642.77 L227.64,643.27 L228.03,643.55 L228.41,643.78 L228.80,644.26 L229.19,644.76 L229.58,645.27 L229.96,645.44 L230.35,645.30 L230.74,645.62 L231.13,646.15 L231.51,646.37 L231.90,646.09 L232.29,645.65 L232.67,645.87 L233.06,646.42 L233.45,646.90 L233.84,646.82 L234.22,646.40 L234.61,646.52 L235.00,646.40 L235.39,645.82 L235.77,645.79 L236.16,646.37 L236.55,646.83 L236.94,647.15 L237.32,647.08 L237.71,647.05 L238.10,647.69 L238.49,648.31 L238.87,648.77 L239.26,648.71 L239.65,648.15 L240.03,648.02 L240.42,648.32 L240.81,648.79 L241.20,649.15 L241.58,649.28 L241.97,649.09 L242.36,648.63 L242.75,648.55 L243.13,649.14 L243.52,649.85 L243.91,650.05 L244.30,649.90 L244.68,650.25 L245.07,650.44 L245.46,649.95 L245.85,650.02 L246.23,650.56 L246.62,650.89 L247.01,650.77 L247.39,650.56 L247.78,650.79 L248.17,650.73 L248.56,650.22 L248.94,649.98 L249.33,650.37 L249.72,650.93 L250.11,651.03 L250.49,650.70 L250.88,650.75 L251.27,651.13 L251.66,651.23 L252.04,651.65 L252.43,652.27 L252.82,652.09 L253.21,651.33 L253.59,651.03 L253.98,651.43 L254.37,652.04 L254.76,652.25 L255.14,652.03 L255.53,652.31 L255.92,652.70 L256.30,652.56 L256.69,652.47 L257.08,652.31 L257.47,652.15 L257.85,652.11 L258.24,652.09 L258.63,652.53" stroke="#0000ff" stroke-width="3.3" fill="none" stroke-linejoin="round"/>
<path d="M73.07,640.15 L73.46,639.67 L73.85,639.56 L74.24,639.92 L74.62,639.95 L75.01,639.74 L75.40,639.40 L75.79,639.32 L76.17,640.07 L76.56,640.46 L76.95,640.18 L77.34,639.70 L77.72,639.15 L78.11,639.22 L78.50,639.28 L78.88,638.93 L79.27,638.86 L79.66,638.91 L80.05,638.62 L80.43,638.36 L80.82,638.19 L81.21,637.86 L81.60,638.39 L81.98,638.95 L82.37,638.71 L82.76,638.66 L83.15,638.03 L83.53,637.18 L83.92,637.55 L84.31,638.35 L84.70,638.39 L85.08,637.73 L85.47,637.39 L85.86,637.50 L86.24,637.31 L86.63,637.26 L87.02,637.48 L87.41,637.20 L87.79,637.07 L88.18,637.72 L88.57,637.73 L88.96,636.92 L89.34,636.86 L89.73,637.47 L90.12,637.67 L90.51,637.30 L90.89,636.87 L91.28,636.53 L91.67,636.04 L92.06,635.88 L92.44,636.05 L92.83,635.99 L93.22,635.74 L93.61,635.62 L93.99,635.72 L94.38,635.61 L94.77,635.47 L95.15,635.42 L95.54,635.32 L95.93,635.55 L96.32,635.71 L96.70,635.17 L97.09,634.47 L97.48,634.70 L97.87,635.35 L98.25,635.27 L98.64,635.09 L99.03,635.07 L99.42,634.92 L99.80,634.81 L100.19,634.72 L100.58,634.46 L100.97,634.34 L101.35,634.58 L101.74,634.64 L102.13,634.44 L102.51,633.97 L102.90,633.50 L103.29,633.43 L103.68,633.16 L104.06,632.65 L104.45,632.35 L104.84,632.12 L105.23,631.91 L105.61,631.89 L106.00,631.72 L106.39,631.70 L106.78,631.88 L107.16,631.28 L107.55,630.65 L107.94,630.80 L108.33,630.60 L108.71,630.05 L109.10,629.91 L109.49,630.23 L109.88,630.63 L110.26,630.30 L110.65,629.74 L111.04,629.21 L111.42,628.82 L111.81,628.95 L112.20,629.43 L112.59,629.52 L112.97,628.47 L113.36,627.71 L113.75,627.93 L114.14,628.01 L114.52,627.53 L114.91,627.02 L115.30,626.59 L115.69,626.39 L116.07,626.91 L116.46,627.05 L116.85,626.16 L117.24,625.60 L117.62,625.68 L118.01,625.62 L118.40,625.56 L118.78,625.49 L119.17,625.34 L119.56,625.02 L119.95,624.16 L120.33,623.37 L120.72,623.23 L121.11,623.44 L121.50,623.59 L121.88,623.61 L122.27,623.05 L122.66,621.64 L123.05,620.96 L123.43,621.51 L123.82,621.39 L124.21,620.77 L124.60,620.53 L124.98,620.15 L125.37,619.85 L125.76,619.41 L126.15,618.81 L126.53,618.76 L126.92,618.55 L127.31,617.76 L127.69,617.39 L128.08,617.38 L128.47,616.95 L128.86,616.37 L129.24,616.04 L129.63,615.44 L130.02,614.79 L130.41,614.41 L130.79,614.18 L131.18,614.04 L131.57,613.36 L131.96,612.36 L132.34,611.74 L132.73,611.47 L133.12,611.13 L133.51,610.93 L133.89,610.80 L134.28,610.27 L134.67,609.33 L135.05,608.45 L135.44,607.95 L135.83,607.14 L136.22,606.00 L136.60,605.10 L136.99,604.34 L137.38,603.92 L137.77,603.85 L138.15,603.17 L138.54,601.88 L138.93,600.79 L139.32,600.28 L139.70,599.90 L140.09,599.35 L140.48,598.51 L140.87,597.53 L141.25,596.81 L141.64,595.58 L142.03,594.12 L142.42,593.55 L142.80,593.19 L143.19,592.12 L143.58,590.98 L143.96,589.68 L144.35,588.14 L144.74,587.42 L145.13,586.97 L145.51,585.63 L145.90,583.80 L146.29,582.61 L146.68,581.93 L147.06,580.81 L147.45,579.14 L147.84,577.30 L148.23,575.65 L148.61,574.21 L149.00,572.38 L149.39,570.84 L149.78,569.84 L150.16,567.87 L150.55,565.50 L150.94,563.84 L151.32,561.89 L151.71,559.72 L152.10,557.93 L152.49,556.08 L152.87,553.76 L153.26,551.01 L153.65,548.49 L154.04,546.42 L154.42,543.87 L154.81,540.32 L155.20,537.18 L155.59,534.37 L155.97,531.41 L156.36,528.63 L156.75,525.31 L157.14,521.16 L157.52,517.13 L157.91,514.07 L158.30,510.37 L158.68,505.51 L159.07,500.52 L159.46,495.76 L159.85,491.28 L160.23,486.27 L160.62,480.99 L161.01,476.16 L161.40,470.70 L161.78,465.07 L162.17,460.19 L162.56,454.59 L162.95,448.34 L163.33,442.90 L163.72,437.84 L164.11,432.01 L164.50,426.42 L164.88,421.93 L165.27,417.82 L165.66,414.42 L166.05,411.68 L166.43,409.53 L166.82,409.63 L167.21,412.04 L167.59,415.77 L167.98,420.18 L168.37,425.07 L168.76,430.64 L169.14,436.80 L169.53,442.82 L169.92,448.91 L170.31,455.62 L170.69,462.07 L171.08,468.15 L171.47,474.37 L171.86,480.45 L172.24,485.88 L172.63,490.99 L173.02,496.48 L173.41,501.50 L173.79,506.13 L174.18,511.01 L174.57,515.30 L174.95,519.69 L175.34,524.29 L175.73,528.16 L176.12,531.46 L176.50,534.54 L176.89,538.02 L177.28,541.94 L177.67,545.69 L178.05,548.79 L178.44,551.49 L178.83,554.23 L179.22,556.70 L179.60,558.96 L179.99,561.10 L180.38,563.27 L180.77,565.63 L181.15,567.89 L181.54,569.89 L181.93,571.58 L182.32,573.21 L182.70,574.84 L183.09,576.88 L183.48,579.44 L183.86,581.32 L184.25,582.24 L184.64,583.56 L185.03,585.20 L185.41,586.45 L185.80,587.99 L186.19,589.57 L186.58,591.07 L186.96,592.92 L187.35,594.34 L187.74,595.31 L188.13,596.37 L188.51,597.28 L188.90,598.65 L189.29,600.30 L189.68,600.98 L190.06,601.73 L190.45,603.10 L190.84,604.01 L191.22,605.01 L191.61,605.73 L192.00,605.63 L192.39,606.17 L192.77,607.45 L193.16,608.16 L193.55,608.30 L193.94,608.97 L194.32,609.96 L194.71,610.70 L195.10,611.57 L195.49,612.36 L195.87,612.97 L196.26,613.65 L196.65,614.28 L197.04,615.06 L197.42,615.90 L197.81,616.41 L198.20,616.60 L198.59,616.92 L198.97,617.79 L199.36,618.61 L199.75,619.11 L200.13,619.93 L200.52,620.61 L200.91,620.65 L201.30,620.66 L201.68,621.02 L202.07,621.40 L202.46,621.69 L202.85,622.37 L203.23,623.11 L203.62,623.54 L204.01,624.02 L204.40,624.37 L204.78,624.73 L205.17,625.57 L205.56,626.33 L205.95,626.54 L206.33,626.72 L206.72,627.10 L207.11,627.66 L207.49,628.39 L207.88,628.64 L208.27,628.31 L208.66,628.31 L209.04,628.86 L209.43,629.09 L209.82,629.06 L210.21,629.61 L210.59,630.26 L210.98,630.59 L211.37,630.96 L211.76,631.25 L212.14,631.54 L212.53,631.91 L212.92,632.42 L213.31,632.82 L213.69,632.78 L214.08,633.05 L214.47,633.84 L214.86,634.43 L215.24,634.50 L215.63,634.40 L216.02,634.52 L216.40,634.88 L216.79,635.24 L217.18,635.46 L217.57,635.86 L217.95,636.11 L218.34,636.11 L218.73,636.49 L219.12,636.66 L219.50,636.55 L219.89,636.60 L220.28,636.30 L220.67,636.36 L221.05,637.33 L221.44,638.17 L221.83,638.67 L222.22,638.68 L222.60,638.30 L222.99,638.32 L223.38,638.57 L223.76,638.95 L224.15,639.70 L224.54,639.95 L224.93,639.52 L225.31,639.38 L225.70,639.61 L226.09,639.89 L226.48,640.21 L226.86,640.61 L227.25,640.86 L227.64,640.94 L228.03,640.83 L228.41,640.74 L228.80,641.62 L229.19,642.66 L229.58,642.53 L229.96,642.11 L230.35,642.13 L230.74,642.53 L231.13,643.08 L231.51,643.31 L231.90,643.36 L232.29,643.16 L232.67,642.76 L233.06,642.85 L233.45,643.10 L233.84,642.77 L234.22,642.70 L234.61,643.34 L235.00,643.82 L235.39,644.14 L235.77,644.51 L236.16,644.65 L236.55,644.56 L236.94,644.29 L237.32,644.14 L237.71,644.42 L238.10,644.75 L238.49,644.90 L238.87,645.26 L239.26,645.22 L239.65,644.73 L240.03,644.65 L240.42,644.65 L240.81,644.63 L241.20,645.13 L241.58,645.84 L241.97,646.25 L242.36,646.38 L242.75,646.43 L243.13,646.69 L243.52,647.01 L243.91,647.36 L244.30,647.10 L244.68,646.24 L245.07,646.69 L245.46,647.64 L245.85,647.58 L246.23,647.87 L246.62,648.34 L247.01,648.00 L247.39,647.59 L247.78,647.42 L248.17,647.61 L248.56,648.15 L248.94,648.22 L249.33,648.01 L249.72,648.10 L250.11,648.36 L250.49,648.43 L250.88,648.66 L251.27,649.46 L251.66,649.54 L252.04,648.83 L252.43,648.72 L252.82,648.94 L253.21,649.30 L253.59,649.73 L253.98,649.84 L254.37,649.83 L254.76,649.94 L255.14,649.99 L255.53,649.86 L255.92,649.65 L256.30,649.47 L256.69,649.68 L257.08,650.29 L257.47,650.39 L257.85,650.15 L258.24,650.75 L258.63,651.41" stroke="#00ff00" stroke-width="3.3" fill="none" stroke-linejoin="round"/>
<path d="M73.07,641.19 L73.46,641.16 L73.85,641.13 L74.24,641.28 L74.62,641.21 L75.01,641.27 L75.40,641.27 L75.79,640.81 L76.17,640.85 L76.56,641.40 L76.95,641.48 L77.34,641.25 L77.72,641.24 L78.11,641.22 L78.50,641.23 L78.88,641.22 L79.27,641.19 L79.66,640.73 L80.05,639.90 L80.43,639.84 L80.82,640.44 L81.21,640.89 L81.60,640.92 L81.98,640.29 L82.37,639.95 L82.76,640.43 L83.15,640.53 L83.53,640.23 L83.92,640.15 L84.31,639.78 L84.70,639.32 L85.08,639.36 L85.47,639.20 L85.86,638.96 L86.24,639.16 L86.63,639.30 L87.02,639.49 L87.41,639.38 L87.79,639.14 L88.18,639.41 L88.57,639.53 L88.96,639.56 L89.34,639.65 L89.73,639.50 L90.12,639.04 L90.51,638.40 L90.89,638.45 L91.28,638.93 L91.67,638.75 L92.06,638.53 L92.44,638.49 L92.83,638.17 L93.22,637.88 L93.61,637.77 L93.99,637.27 L94.38,636.73 L94.77,636.89 L95.15,637.29 L95.54,637.25 L95.93,636.92 L96.32,636.91 L96.70,637.06 L97.09,637.01 L97.48,636.94 L97.87,637.07 L98.25,637.24 L98.64,637.05 L99.03,636.54 L99.42,635.98 L99.80,635.38 L100.19,634.78 L100.58,634.83 L100.97,635.50 L101.35,635.56 L101.74,635.22 L102.13,635.05 L102.51,634.53 L102.90,634.42 L103.29,634.67 L103.68,634.18 L104.06,633.68 L104.45,633.87 L104.84,634.12 L105.23,633.95 L105.61,633.77 L106.00,633.74 L106.39,633.53 L106.78,633.48 L107.16,633.64 L107.55,633.40 L107.94,633.02 L108.33,632.92 L108.71,632.98 L109.10,633.04 L109.49,632.62 L109.88,632.04 L110.26,631.63 L110.65,631.28 L111.04,631.12 L111.42,631.12 L111.81,631.32 L112.20,631.53 L112.59,631.43 L112.97,630.95 L113.36,630.23 L113.75,629.71 L114.14,629.62 L114.52,629.48 L114.91,629.29 L115.30,629.25 L115.69,629.08 L116.07,628.80 L116.46,628.58 L116.85,628.61 L117.24,628.64 L117.62,628.36 L118.01,627.70 L118.40,626.76 L118.78,626.56 L119.17,627.11 L119.56,627.16 L119.95,626.94 L120.33,626.61 L120.72,625.93 L121.11,625.73 L121.50,625.58 L121.88,624.85 L122.27,624.43 L122.66,624.33 L123.05,624.38 L123.43,624.66 L123.82,624.50 L124.21,624.18 L124.60,623.71 L124.98,622.43 L125.37,621.79 L125.76,622.30 L126.15,622.05 L126.53,621.26 L126.92,621.04 L127.31,620.94 L127.69,620.61 L128.08,620.21 L128.47,619.79 L128.86,619.08 L129.24,618.50 L129.63,618.37 L130.02,618.26 L130.41,617.72 L130.79,617.18 L131.18,617.07 L131.57,617.06 L131.96,616.73 L132.34,615.83 L132.73,614.75 L133.12,614.19 L133.51,614.28 L133.89,613.78 L134.28,612.47 L134.67,611.94 L135.05,612.07 L135.44,611.93 L135.83,611.43 L136.22,610.28 L136.60,609.03 L136.99,608.66 L137.38,608.49 L137.77,607.86 L138.15,607.11 L138.54,606.37 L138.93,605.57 L139.32,604.49 L139.70,603.50 L140.09,602.94 L140.48,602.31 L140.87,601.44 L141.25,600.70 L141.64,600.19 L142.03,599.49 L142.42,598.34 L142.80,597.15 L143.19,596.30 L143.58,595.54 L143.96,594.95 L144.35,594.21 L144.74,592.82 L145.13,591.39 L145.51,590.40 L145.90,589.38 L146.29,587.97 L146.68,586.38 L147.06,585.03 L147.45,583.99 L147.84,582.96 L148.23,580.91 L148.61,578.64 L149.00,577.55 L149.39,576.43 L149.78,575.10 L150.16,573.62 L150.55,571.51 L150.94,569.86 L151.32,568.27 L151.71,566.18 L152.10,564.20 L152.49,562.32 L152.87,560.36 L153.26,557.87 L153.65,555.25 L154.04,553.20 L154.42,551.06 L154.81,548.13 L155.20,545.17 L155.59,542.79 L155.97,539.77 L156.36,536.05 L156.75,532.72 L157.14,529.59 L157.52,526.11 L157.91,522.18 L158.30,518.17 L158.68,514.63 L159.07,510.92 L159.46,506.62 L159.85,502.01 L160.23,497.07 L160.62,492.35 L161.01,487.55 L161.40,482.65 L161.78,477.61 L162.17,472.12 L162.56,466.56 L162.95,461.03 L163.33,455.97 L163.72,450.77 L164.11,445.25 L164.50,440.68 L164.88,436.99 L165.27,433.04 L165.66,429.01 L166.05,426.19 L166.43,425.01 L166.82,425.84 L167.21,428.24 L167.59,431.19 L167.98,434.80 L168.37,439.45 L168.76,445.04 L169.14,450.85 L169.53,456.30 L169.92,462.54 L170.31,469.17 L170.69,474.63 L171.08,479.46 L171.47,485.22 L171.86,491.77 L172.24,497.17 L172.63,501.94 L173.02,507.10 L173.41,511.94 L173.79,516.40 L174.18,520.83 L174.57,525.22 L174.95,529.25 L175.34,532.96 L175.73,536.46 L176.12,539.74 L176.50,542.93 L176.89,546.00 L177.28,549.27 L177.67,552.86 L178.05,555.63 L178.44,557.86 L178.83,560.94 L179.22,563.92 L179.60,565.87 L179.99,567.39 L180.38,569.10 L180.77,571.38 L181.15,573.78 L181.54,575.82 L181.93,577.95 L182.32,580.31 L182.70,581.91 L183.09,583.28 L183.48,584.78 L183.86,585.87 L184.25,587.02 L184.64,588.62 L185.03,590.70 L185.41,592.14 L185.80,593.07 L186.19,594.26 L186.58,595.26 L186.96,596.52 L187.35,598.01 L187.74,598.99 L188.13,599.81 L188.51,600.95 L188.90,602.19 L189.29,603.29 L189.68,603.99 L190.06,604.28 L190.45,605.20 L190.84,606.99 L191.22,608.14 L191.61,608.36 L192.00,608.87 L192.39,609.64 L192.77,609.74 L193.16,610.76 L193.55,612.56 L193.94,613.05 L194.32,613.44 L194.71,614.71 L195.10,615.66 L195.49,615.93 L195.87,616.13 L196.26,616.39 L196.65,617.15 L197.04,617.82 L197.42,617.66 L197.81,617.81 L198.20,618.72 L198.59,619.64 L198.97,620.26 L199.36,621.03 L199.75,622.12 L200.13,622.83 L200.52,623.21 L200.91,623.64 L201.30,623.93 L201.68,624.36 L202.07,624.70 L202.46,625.18 L202.85,625.96 L203.23,626.40 L203.62,626.28 L204.01,626.10 L204.40,626.64 L204.78,627.26 L205.17,627.74 L205.56,628.68 L205.95,629.42 L206.33,629.32 L206.72,629.15 L207.11,629.55 L207.49,629.97 L207.88,630.32 L208.27,630.54 L208.66,630.46 L209.04,630.92 L209.43,631.86 L209.82,632.30 L210.21,632.43 L210.59,632.69 L210.98,632.69 L211.37,632.68 L211.76,633.04 L212.14,633.50 L212.53,634.03 L212.92,634.55 L213.31,634.53 L213.69,634.38 L214.08,634.79 L214.47,635.09 L214.86,635.13 L215.24,635.39 L215.63,636.06 L216.02,636.24 L216.40,635.99 L216.79,636.39 L217.18,636.88 L217.57,637.12 L217.95,637.34 L218.34,637.40 L218.73,637.21 L219.12,637.74 L219.50,638.31 L219.89,638.38 L220.28,638.99 L220.67,639.03 L221.05,638.73 L221.44,638.91 L221.83,639.00 L222.22,639.45 L222.60,639.76 L222.99,639.65 L223.38,640.04 L223.76,640.38 L224.15,640.38 L224.54,640.92 L224.93,641.58 L225.31,641.19 L225.70,640.19 L226.09,640.53 L226.48,641.63 L226.86,641.57 L227.25,641.43 L227.64,641.86 L228.03,642.23 L228.41,642.67 L228.80,642.63 L229.19,642.38 L229.58,642.70 L229.96,643.09 L230.35,643.49 L230.74,643.99 L231.13,644.15 L231.51,644.03 L231.90,644.12 L232.29,644.01 L232.67,644.00 L233.06,644.85 L233.45,645.36 L233.84,645.09 L234.22,645.15 L234.61,645.52 L235.00,645.65 L235.39,645.90 L235.77,646.03 L236.16,645.68 L236.55,645.45 L236.94,645.83 L237.32,646.31 L237.71,646.06 L238.10,645.92 L238.49,646.26 L238.87,646.53 L239.26,646.80 L239.65,646.87 L240.03,646.54 L240.42,646.53 L240.81,647.07 L241.20,647.21 L241.58,647.43 L241.97,647.74 L242.36,647.43 L242.75,647.27 L243.13,647.52 L243.52,648.13 L243.91,648.60 L244.30,648.48 L244.68,648.51 L245.07,648.64 L245.46,648.42 L245.85,648.64 L246.23,649.03 L246.62,648.91 L247.01,648.90 L247.39,649.09 L247.78,649.33 L248.17,649.67 L248.56,649.74 L248.94,649.45 L249.33,649.25 L249.72,649.39 L250.11,649.61 L250.49,649.43 L250.88,649.52 L251.27,649.98 L251.66,649.59 L252.04,649.21 L252.43,649.85 L252.82,650.29 L253.21,650.34 L253.59,650.32 L253.98,650.18 L254.37,650.37 L254.76,650.75 L255.14,650.85 L255.53,650.71 L255.92,650.85 L256.30,651.14 L256.69,650.92 L257.08,650.61 L257.47,650.85 L257.85,650.92 L258.24,650.82 L258.63,651.01" stroke="#ff0000" stroke-width="3.3" fill="none" stroke-linejoin="round"/>
<path d="M73.07,647.92 L73.46,649.07 L73.85,649.57 L74.24,648.67 L74.62,647.99 L75.01,648.10 L75.40,648.43 L75.79,648.75 L76.17,648.81 L76.56,648.87 L76.95,648.82 L77.34,648.20 L77.72,647.54 L78.11,647.69 L78.50,648.08 L78.88,648.13 L79.27,648.18 L79.66,648.01 L80.05,647.92 L80.43,648.01 L80.82,647.79 L81.21,647.46 L81.60,647.33 L81.98,647.47 L82.37,647.55 L82.76,647.44 L83.15,647.49 L83.53,647.77 L83.92,647.75 L84.31,647.73 L84.70,647.78 L85.08,647.42 L85.47,647.19 L85.86,647.33 L86.24,647.46 L86.63,647.39 L87.02,647.03 L87.41,646.50 L87.79,646.21 L88.18,646.05 L88.57,645.84 L88.96,645.83 L89.34,646.13 L89.73,646.27 L90.12,646.27 L90.51,646.17 L90.89,645.83 L91.28,645.61 L91.67,645.54 L92.06,645.36 L92.44,645.43 L92.83,645.67 L93.22,645.42 L93.61,645.30 L93.99,645.45 L94.38,645.24 L94.77,644.79 L95.15,644.65 L95.54,644.72 L95.93,644.58 L96.32,644.37 L96.70,644.15 L97.09,644.03 L97.48,644.23 L97.87,644.71 L98.25,644.68 L98.64,644.30 L99.03,644.30 L99.42,644.20 L99.80,643.88 L100.19,643.72 L100.58,644.01 L100.97,644.58 L101.35,644.66 L101.74,644.10 L102.13,643.87 L102.51,644.02 L102.90,643.66 L103.29,643.10 L103.68,642.91 L104.06,642.94 L104.45,642.99 L104.84,642.73 L105.23,642.48 L105.61,642.36 L106.00,642.14 L106.39,641.88 L106.78,641.68 L107.16,641.98 L107.55,642.13 L107.94,641.88 L108.33,641.79 L108.71,641.67 L109.10,641.31 L109.49,641.08 L109.88,641.08 L110.26,640.78 L110.65,640.65 L111.04,640.90 L111.42,640.71 L111.81,640.71 L112.20,641.38 L112.59,641.28 L112.97,640.62 L113.36,640.31 L113.75,640.09 L114.14,639.81 L114.52,639.55 L114.91,639.55 L115.30,639.68 L115.69,639.24 L116.07,638.88 L116.46,639.12 L116.85,639.29 L117.24,639.19 L117.62,638.86 L118.01,638.52 L118.40,638.35 L118.78,638.29 L119.17,638.16 L119.56,637.95 L119.95,637.51 L120.33,636.69 L120.72,636.10 L121.11,636.18 L121.50,636.03 L121.88,635.48 L122.27,635.63 L122.66,635.97 L123.05,635.64 L123.43,635.18 L123.82,634.84 L124.21,634.98 L124.60,635.36 L124.98,634.73 L125.37,633.70 L125.76,633.68 L126.15,634.11 L126.53,634.00 L126.92,633.81 L127.31,634.21 L127.69,634.16 L128.08,633.24 L128.47,632.82 L128.86,632.71 L129.24,632.34 L129.63,631.95 L130.02,631.29 L130.41,630.65 L130.79,630.49 L131.18,630.29 L131.57,629.83 L131.96,629.38 L132.34,629.59 L132.73,629.52 L133.12,628.30 L133.51,627.53 L133.89,627.89 L134.28,627.94 L134.67,627.10 L135.05,626.71 L135.44,626.77 L135.83,626.12 L136.22,625.32 L136.60,625.06 L136.99,624.79 L137.38,624.18 L137.77,623.57 L138.15,623.07 L138.54,622.45 L138.93,621.59 L139.32,620.85 L139.70,620.68 L140.09,620.24 L140.48,619.35 L140.87,619.11 L141.25,619.10 L141.64,618.34 L142.03,617.37 L142.42,616.80 L142.80,616.15 L143.19,615.11 L143.58,614.50 L143.96,614.52 L144.35,614.16 L144.74,613.08 L145.13,611.84 L145.51,611.13 L145.90,610.88 L146.29,610.45 L146.68,609.75 L147.06,608.38 L147.45,606.41 L147.84,604.99 L148.23,604.44 L148.61,603.96 L149.00,602.74 L149.39,601.07 L149.78,600.02 L150.16,599.46 L150.55,598.74 L150.94,597.60 L151.32,595.82 L151.71,594.12 L152.10,593.15 L152.49,592.01 L152.87,590.44 L153.26,588.79 L153.65,587.22 L154.04,585.83 L154.42,584.20 L154.81,582.23 L155.20,580.09 L155.59,578.28 L155.97,576.65 L156.36,574.56 L156.75,571.94 L157.14,569.25 L157.52,567.00 L157.91,565.03 L158.30,563.07 L158.68,560.85 L159.07,558.09 L159.46,554.82 L159.85,551.50 L160.23,548.31 L160.62,545.33 L161.01,542.63 L161.40,539.54 L161.78,536.30 L162.17,533.47 L162.56,530.46 L162.95,526.61 L163.33,522.97 L163.72,519.93 L164.11,516.39 L164.50,513.18 L164.88,510.72 L165.27,508.40 L165.66,506.40 L166.05,504.62 L166.43,503.25 L166.82,503.32 L167.21,504.83 L167.59,507.20 L167.98,509.99 L168.37,513.22 L168.76,516.99 L169.14,520.57 L169.53,524.28 L169.92,528.32 L170.31,531.96 L170.69,535.62 L171.08,539.51 L171.47,543.37 L171.86,546.77 L172.24,550.19 L172.63,554.33 L173.02,558.11 L173.41,561.12 L173.79,563.57 L174.18,565.83 L174.57,568.67 L174.95,571.82 L175.34,574.59 L175.73,577.19 L176.12,579.38 L176.50,581.59 L176.89,584.09 L177.28,586.12 L177.67,587.84 L178.05,589.39 L178.44,591.25 L178.83,593.44 L179.22,595.25 L179.60,597.20 L179.99,599.06 L180.38,600.23 L180.77,601.42 L181.15,602.92 L181.54,603.93 L181.93,604.62 L182.32,605.71 L182.70,606.74 L183.09,607.84 L183.48,608.93 L183.86,609.77 L184.25,611.17 L184.64,612.77 L185.03,614.01 L185.41,614.80 L185.80,615.39 L186.19,616.17 L186.58,616.95 L186.96,617.95 L187.35,619.17 L187.74,619.95 L188.13,620.47 L188.51,621.30 L188.90,622.08 L189.29,622.61 L189.68,623.02 L190.06,623.48 L190.45,624.23 L190.84,625.17 L191.22,626.02 L191.61,626.15 L192.00,626.16 L192.39,626.70 L192.77,627.22 L193.16,627.83 L193.55,628.40 L193.94,628.68 L194.32,629.01 L194.71,629.63 L195.10,630.37 L195.49,631.30 L195.87,631.98 L196.26,632.01 L196.65,632.27 L197.04,632.50 L197.42,632.42 L197.81,632.73 L198.20,633.33 L198.59,633.84 L198.97,634.06 L199.36,634.33 L199.75,634.73 L200.13,634.84 L200.52,635.07 L200.91,635.77 L201.30,636.06 L201.68,635.99 L202.07,636.10 L202.46,636.57 L202.85,637.13 L203.23,637.13 L203.62,636.92 L204.01,637.37 L204.40,638.12 L204.78,638.51 L205.17,638.57 L205.56,638.72 L205.95,639.07 L206.33,639.02 L206.72,639.20 L207.11,639.62 L207.49,639.81 L207.88,640.49 L208.27,640.99 L208.66,641.12 L209.04,641.51 L209.43,641.96 L209.82,642.37 L210.21,642.46 L210.59,642.60 L210.98,642.85 L211.37,642.59 L211.76,642.58 L212.14,642.92 L212.53,643.00 L212.92,643.32 L213.31,643.78 L213.69,643.83 L214.08,644.07 L214.47,644.44 L214.86,644.68 L215.24,645.48 L215.63,645.95 L216.02,645.38 L216.40,644.82 L216.79,644.85 L217.18,645.25 L217.57,645.64 L217.95,646.20 L218.34,646.57 L218.73,646.36 L219.12,646.21 L219.50,646.13 L219.89,645.91 L220.28,646.25 L220.67,647.07 L221.05,646.99 L221.44,646.33 L221.83,646.68 L222.22,647.69 L222.60,647.68 L222.99,647.35 L223.38,647.67 L223.76,648.12 L224.15,648.67 L224.54,648.89 L224.93,648.75 L225.31,648.39 L225.70,648.08 L226.09,648.19 L226.48,648.21 L226.86,648.09 L227.25,648.22 L227.64,649.08 L228.03,650.11 L228.41,650.07 L228.80,649.35 L229.19,649.07 L229.58,649.32 L229.96,649.87 L230.35,650.51 L230.74,650.99 L231.13,650.93 L231.51,650.68 L231.90,650.96 L232.29,650.95 L232.67,650.42 L233.06,650.45 L233.45,650.74 L233.84,650.88 L234.22,651.23 L234.61,651.39 L235.00,651.27 L235.39,651.61 L235.77,651.73 L236.16,651.35 L236.55,651.36 L236.94,651.89 L237.32,652.12 L237.71,651.84 L238.10,652.23 L238.49,652.71 L238.87,652.67 L239.26,652.79 L239.65,652.68 L240.03,652.10 L240.42,651.89 L240.81,652.31 L241.20,652.56 L241.58,652.54 L241.97,652.79 L242.36,652.83 L242.75,652.67 L243.13,653.16 L243.52,653.03 L243.91,652.42 L244.30,652.90 L244.68,653.44 L245.07,652.90 L245.46,652.41 L245.85,653.06 L246.23,653.68 L246.62,653.48 L247.01,653.50 L247.39,653.77 L247.78,654.10 L248.17,654.39 L248.56,654.03 L248.94,653.77 L249.33,654.06 L249.72,654.09 L250.11,653.74 L250.49,653.61 L250.88,653.90 L251.27,654.29 L251.66,654.06 L252.04,653.62 L252.43,654.01 L252.82,654.76 L253.21,655.01 L253.59,655.06 L253.98,655.04 L254.37,654.63 L254.76,654.07 L255.14,654.16 L255.53,654.61 L255.92,654.81 L256.30,655.27 L256.69,655.86 L257.08,656.02 L257.47,655.32 L257.85,654.52 L258.24,654.63 L258.63,654.77" stroke="#ff8000" stroke-width="3.3" fill="none" stroke-linejoin="round"/>
<path d="M73.07,650.34 L73.46,650.53 L73.85,650.58 L74.24,650.23 L74.62,650.20 L75.01,650.54 L75.40,650.47 L75.79,650.24 L76.17,650.11 L76.56,649.77 L76.95,649.72 L77.34,649.64 L77.72,649.15 L78.11,649.05 L78.50,649.09 L78.88,649.55 L79.27,650.42 L79.66,650.36 L80.05,649.68 L80.43,649.29 L80.82,649.61 L81.21,650.21 L81.60,649.99 L81.98,649.24 L82.37,648.90 L82.76,649.33 L83.15,649.93 L83.53,649.92 L83.92,649.70 L84.31,649.44 L84.70,648.92 L85.08,648.59 L85.47,648.89 L85.86,649.66 L86.24,650.10 L86.63,649.95 L87.02,649.45 L87.41,649.30 L87.79,649.39 L88.18,649.02 L88.57,648.75 L88.96,648.72 L89.34,648.73 L89.73,649.03 L90.12,648.78 L90.51,648.16 L90.89,648.03 L91.28,648.06 L91.67,648.56 L92.06,648.81 L92.44,648.36 L92.83,648.34 L93.22,648.16 L93.61,647.87 L93.99,648.12 L94.38,647.83 L94.77,646.98 L95.15,646.94 L95.54,647.59 L95.93,647.84 L96.32,647.60 L96.70,647.38 L97.09,647.32 L97.48,647.40 L97.87,647.58 L98.25,647.16 L98.64,646.66 L99.03,646.84 L99.42,647.19 L99.80,647.51 L100.19,647.40 L100.58,646.68 L100.97,646.31 L101.35,646.68 L101.74,647.16 L102.13,647.09 L102.51,646.37 L102.90,645.50 L103.29,645.18 L103.68,645.75 L104.06,646.71 L104.45,646.88 L104.84,646.12 L105.23,645.34 L105.61,645.21 L106.00,645.44 L106.39,645.35 L106.78,645.26 L107.16,645.31 L107.55,645.44 L107.94,645.53 L108.33,645.39 L108.71,645.31 L109.10,645.38 L109.49,645.16 L109.88,644.90 L110.26,644.96 L110.65,644.83 L111.04,644.57 L111.42,644.13 L111.81,643.79 L112.20,643.69 L112.59,643.69 L112.97,644.20 L113.36,644.09 L113.75,643.81 L114.14,644.10 L114.52,643.65 L114.91,643.23 L115.30,643.11 L115.69,642.24 L116.07,641.77 L116.46,642.15 L116.85,642.17 L117.24,641.72 L117.62,641.60 L118.01,641.88 L118.40,641.53 L118.78,640.83 L119.17,640.93 L119.56,641.31 L119.95,641.79 L120.33,641.96 L120.72,641.14 L121.11,640.43 L121.50,640.26 L121.88,639.96 L122.27,639.52 L122.66,639.34 L123.05,639.33 L123.43,639.32 L123.82,639.18 L124.21,639.02 L124.60,638.73 L124.98,638.22 L125.37,638.08 L125.76,637.80 L126.15,637.19 L126.53,637.40 L126.92,638.02 L127.31,637.91 L127.69,637.44 L128.08,636.90 L128.47,636.20 L128.86,635.80 L129.24,635.55 L129.63,635.24 L130.02,635.46 L130.41,636.06 L130.79,636.06 L131.18,635.34 L131.57,634.56 L131.96,633.86 L132.34,633.18 L132.73,632.79 L133.12,632.89 L133.51,633.14 L133.89,632.76 L134.28,632.31 L134.67,632.40 L135.05,631.81 L135.44,630.46 L135.83,630.19 L136.22,630.75 L136.60,630.62 L136.99,630.45 L137.38,630.32 L137.77,629.43 L138.15,628.36 L138.54,627.76 L138.93,627.29 L139.32,626.95 L139.70,626.99 L140.09,626.43 L140.48,625.43 L140.87,625.20 L141.25,625.46 L141.64,625.17 L142.03,624.29 L142.42,623.49 L142.80,622.97 L143.19,622.51 L143.58,622.06 L143.96,621.58 L144.35,621.01 L144.74,620.58 L145.13,620.00 L145.51,619.11 L145.90,618.47 L146.29,617.65 L146.68,616.46 L147.06,615.26 L147.45,613.99 L147.84,613.30 L148.23,613.16 L148.61,612.67 L149.00,612.01 L149.39,610.91 L149.78,609.25 L150.16,608.29 L150.55,607.46 L150.94,606.01 L151.32,604.89 L151.71,604.14 L152.10,603.70 L152.49,602.83 L152.87,601.11 L153.26,599.89 L153.65,598.67 L154.04,596.68 L154.42,595.11 L154.81,593.95 L155.20,592.24 L155.59,590.35 L155.97,588.83 L156.36,587.00 L156.75,584.87 L157.14,582.98 L157.52,581.02 L157.91,579.17 L158.30,577.05 L158.68,574.67 L159.07,572.58 L159.46,570.18 L159.85,567.41 L160.23,564.88 L160.62,562.88 L161.01,561.02 L161.40,558.70 L161.78,555.97 L162.17,552.90 L162.56,549.77 L162.95,547.01 L163.33,544.39 L163.72,541.82 L164.11,539.37 L164.50,536.89 L164.88,534.22 L165.27,532.00 L165.66,530.86 L166.05,530.06 L166.43,529.46 L166.82,529.55 L167.21,530.55 L167.59,532.14 L167.98,534.17 L168.37,537.13 L168.76,539.89 L169.14,542.39 L169.53,545.50 L169.92,549.13 L170.31,552.72 L170.69,555.58 L171.08,558.32 L171.47,561.45 L171.86,564.87 L172.24,568.37 L172.63,571.46 L173.02,574.09 L173.41,576.72 L173.79,578.86 L174.18,581.08 L174.57,583.94 L174.95,586.42 L175.34,588.68 L175.73,591.14 L176.12,593.33 L176.50,594.82 L176.89,595.97 L177.28,597.21 L177.67,598.90 L178.05,600.84 L178.44,602.46 L178.83,604.21 L179.22,605.98 L179.60,607.07 L179.99,607.86 L180.38,609.34 L180.77,611.00 L181.15,611.93 L181.54,612.78 L181.93,613.74 L182.32,615.00 L182.70,616.56 L183.09,617.58 L183.48,618.07 L183.86,618.71 L184.25,619.75 L184.64,620.58 L185.03,621.39 L185.41,622.40 L185.80,622.80 L186.19,623.48 L186.58,624.18 L186.96,624.46 L187.35,625.32 L187.74,626.29 L188.13,626.88 L188.51,627.20 L188.90,627.43 L189.29,627.73 L189.68,628.44 L190.06,629.55 L190.45,630.48 L190.84,631.12 L191.22,631.68 L191.61,632.17 L192.00,632.52 L192.39,632.76 L192.77,633.28 L193.16,633.88 L193.55,634.53 L193.94,635.26 L194.32,635.72 L194.71,636.16 L195.10,636.06 L195.49,635.81 L195.87,636.35 L196.26,637.04 L196.65,637.27 L197.04,637.50 L197.42,637.84 L197.81,638.12 L198.20,638.62 L198.59,639.16 L198.97,639.30 L199.36,639.39 L199.75,640.02 L200.13,640.37 L200.52,640.26 L200.91,640.82 L201.30,641.27 L201.68,641.20 L202.07,641.55 L202.46,642.07 L202.85,642.17 L203.23,641.97 L203.62,641.91 L204.01,642.33 L204.40,642.56 L204.78,642.54 L205.17,643.33 L205.56,644.07 L205.95,644.34 L206.33,644.72 L206.72,644.76 L207.11,644.55 L207.49,644.28 L207.88,644.12 L208.27,644.52 L208.66,645.04 L209.04,645.45 L209.43,645.54 L209.82,645.24 L210.21,645.35 L210.59,645.81 L210.98,646.31 L211.37,646.77 L211.76,647.00 L212.14,647.08 L212.53,646.86 L212.92,646.73 L213.31,646.92 L213.69,646.83 L214.08,646.73 L214.47,646.89 L214.86,647.46 L215.24,648.13 L215.63,648.04 L216.02,647.68 L216.40,647.49 L216.79,647.77 L217.18,648.24 L217.57,648.34 L217.95,648.11 L218.34,648.07 L218.73,648.57 L219.12,649.00 L219.50,649.19 L219.89,649.20 L220.28,649.22 L220.67,649.48 L221.05,649.50 L221.44,649.22 L221.83,649.34 L222.22,649.94 L222.60,650.37 L222.99,650.39 L223.38,650.32 L223.76,650.29 L224.15,650.60 L224.54,650.97 L224.93,650.65 L225.31,650.33 L225.70,650.92 L226.09,651.67 L226.48,651.57 L226.86,651.02 L227.25,651.22 L227.64,651.73 L228.03,651.29 L228.41,650.76 L228.80,651.26 L229.19,652.09 L229.58,651.97 L229.96,651.49 L230.35,651.74 L230.74,652.41 L231.13,652.74 L231.51,652.54 L231.90,652.54 L232.29,652.90 L232.67,652.73 L233.06,652.19 L233.45,652.21 L233.84,652.47 L234.22,652.60 L234.61,653.07 L235.00,653.57 L235.39,653.82 L235.77,653.95 L236.16,653.88 L236.55,653.42 L236.94,652.85 L237.32,652.68 L237.71,653.07 L238.10,653.74 L238.49,653.98 L238.87,654.32 L239.26,654.57 L239.65,654.34 L240.03,654.25 L240.42,653.73 L240.81,653.35 L241.20,653.97 L241.58,654.60 L241.97,655.03 L242.36,655.24 L242.75,655.11 L243.13,654.99 L243.52,654.89 L243.91,654.83 L244.30,654.71 L244.68,654.47 L245.07,654.64 L245.46,655.28 L245.85,655.23 L246.23,654.56 L246.62,654.69 L247.01,654.82 L247.39,654.96 L247.78,655.87 L248.17,656.02 L248.56,655.54 L248.94,655.66 L249.33,656.01 L249.72,655.93 L250.11,655.58 L250.49,655.84 L250.88,656.59 L251.27,656.76 L251.66,656.33 L252.04,655.67 L252.43,655.15 L252.82,655.49 L253.21,656.20 L253.59,656.37 L253.98,656.32 L254.37,656.45 L254.76,656.51 L255.14,656.37 L255.53,656.23 L255.92,656.22 L256.30,655.96 L256.69,655.95 L257.08,656.82 L257.47,657.27 L257.85,657.06 L258.24,656.79 L258.63,656.70" stroke="#ff80ff" stroke-width="3.3" fill="none" stroke-linejoin="round"/>
</g>
<rect x="55.4" y="386" width="220.79999999999998" height="289.6" fill="none" stroke="#5a5a5a" stroke-width="1.3"/>
<path d="M69.30,675.6v-4M69.30,386v4M100.75,675.6v-4M100.75,386v4M132.20,675.6v-4M132.20,386v4M163.65,675.6v-4M163.65,386v4M195.10,675.6v-4M195.10,386v4M226.55,675.6v-4M226.55,386v4M258.00,675.6v-4M258.00,386v4M85.02,675.6v-2.5M85.02,386v2.5M116.47,675.6v-2.5M116.47,386v2.5M147.93,675.6v-2.5M147.93,386v2.5M179.38,675.6v-2.5M179.38,386v2.5M210.82,675.6v-2.5M210.82,386v2.5M242.27,675.6v-2.5M242.27,386v2.5M273.72,675.6v-2.5M273.72,386v2.5M55.4,664.60h4M276.2,664.60h-4M55.4,590.40h4M276.2,590.40h-4M55.4,516.20h4M276.2,516.20h-4M55.4,442.00h4M276.2,442.00h-4M55.4,627.50h2.5M276.2,627.50h-2.5M55.4,553.30h2.5M276.2,553.30h-2.5M55.4,479.10h2.5M276.2,479.10h-2.5M55.4,404.90h2.5M276.2,404.90h-2.5" stroke="#5a5a5a" stroke-width="1.2" fill="none"/>
<rect x="182.4" y="393.5" width="80.9" height="135.1" fill="#fff" stroke="#444" stroke-width="1.1"/>
<path d="M186,405.6H218" stroke="#800080" stroke-width="3" stroke-linecap="round"/>
<text x="220.3" y="410.20000000000005" font-size="13.1" text-anchor="start" fill="#000" textLength="40" lengthAdjust="spacingAndGlyphs">365 nm</text>
<path d="M186,421.95000000000005H218" stroke="#000080" stroke-width="3" stroke-linecap="round"/>
<text x="220.3" y="426.55000000000007" font-size="13.1" text-anchor="start" fill="#000" textLength="40" lengthAdjust="spacingAndGlyphs">385 nm</text>
<path d="M186,438.3H218" stroke="#1a80c0" stroke-width="3" stroke-linecap="round"/>
<text x="220.3" y="442.90000000000003" font-size="13.1" text-anchor="start" fill="#000" textLength="40" lengthAdjust="spacingAndGlyphs">425 nm</text>
<path d="M186,454.65000000000003H218" stroke="#0000ff" stroke-width="3" stroke-linecap="round"/>
<text x="220.3" y="459.25000000000006" font-size="13.1" text-anchor="start" fill="#000" textLength="40" lengthAdjust="spacingAndGlyphs">460 nm</text>
<path d="M186,471.0H218" stroke="#00ff00" stroke-width="3" stroke-linecap="round"/>
<text x="220.3" y="475.6" font-size="13.1" text-anchor="start" fill="#000" textLength="40" lengthAdjust="spacingAndGlyphs">523 nm</text>
<path d="M186,487.35H218" stroke="#ff0000" stroke-width="3" stroke-linecap="round"/>
<text x="220.3" y="491.95000000000005" font-size="13.1" text-anchor="start" fill="#000" textLength="40" lengthAdjust="spacingAndGlyphs">620 nm</text>
<path d="M186,503.70000000000005H218" stroke="#ff8000" stroke-width="3" stroke-linecap="round"/>
<text x="220.3" y="508.30000000000007" font-size="13.1" text-anchor="start" fill="#000" textLength="40" lengthAdjust="spacingAndGlyphs">850 nm</text>
<path d="M186,520.0500000000001H218" stroke="#ff80ff" stroke-width="3" stroke-linecap="round"/>
<text x="220.3" y="524.6500000000001" font-size="13.1" text-anchor="start" fill="#000" textLength="40" lengthAdjust="spacingAndGlyphs">940 nm</text>
</g>
<rect x="363" y="386" width="312" height="332" fill="#fbfbfb"/>
<g font-family="Liberation Serif, serif">
<text x="359.6" y="378.1" font-size="29" text-anchor="start" fill="#000">(d)</text>
<text x="410" y="662.4000000000001" font-size="15.6" text-anchor="end" fill="#000">0.1</text>
<text x="410" y="620.47" font-size="15.6" text-anchor="end" fill="#000">0.2</text>
<text x="410" y="578.5400000000001" font-size="15.6" text-anchor="end" fill="#000">0.3</text>
<text x="410" y="536.6100000000001" font-size="15.6" text-anchor="end" fill="#000">0.4</text>
<text x="410" y="494.68" font-size="15.6" text-anchor="end" fill="#000">0.5</text>
<text x="410" y="452.75000000000006" font-size="15.6" text-anchor="end" fill="#000">0.6</text>
<text x="410" y="410.82000000000005" font-size="15.6" text-anchor="end" fill="#000">0.7</text>
<text x="416.2" y="696.3" font-size="16.4" text-anchor="middle" fill="#000">300</text>
<text x="463.0" y="696.3" font-size="16.4" text-anchor="middle" fill="#000">450</text>
<text x="509.79999999999995" y="696.3" font-size="16.4" text-anchor="middle" fill="#000">600</text>
<text x="556.6" y="696.3" font-size="16.4" text-anchor="middle" fill="#000">750</text>
<text x="603.4" y="696.3" font-size="16.4" text-anchor="middle" fill="#000">900</text>
<text x="461" y="711.5" font-size="16.5" text-anchor="start" fill="#000" textLength="129" lengthAdjust="spacingAndGlyphs">Wavelength (nm)</text>
<text transform="translate(381.5,590.8) rotate(-90)" font-size="19.5" font-style="italic">Z</text>
<text transform="translate(385.1,580.5) rotate(-90)" font-size="13.6" font-style="italic" textLength="61.5" lengthAdjust="spacingAndGlyphs">NP-coated</text>
<text transform="translate(381.5,513.2) rotate(-90)" font-size="18.6" textLength="34.8" lengthAdjust="spacingAndGlyphs">(nm)</text>
<rect x="416.2" y="389.2" width="218.09999999999997" height="288.90000000000003" fill="none" stroke="#333" stroke-width="1.3"/>
<path d="M463.00,678.1v-5M463.00,389.2v5M509.80,678.1v-5M509.80,389.2v5M556.60,678.1v-5M556.60,389.2v5M603.40,678.1v-5M603.40,389.2v5M439.60,678.1v-2.8M439.60,389.2v2.8M486.40,678.1v-2.8M486.40,389.2v2.8M533.20,678.1v-2.8M533.20,389.2v2.8M580.00,678.1v-2.8M580.00,389.2v2.8M626.80,678.1v-2.8M626.80,389.2v2.8M416.2,657.20h5M634.3,657.20h-5M416.2,615.27h5M634.3,615.27h-5M416.2,573.34h5M634.3,573.34h-5M416.2,531.41h5M634.3,531.41h-5M416.2,489.48h5M634.3,489.48h-5M416.2,447.55h5M634.3,447.55h-5M416.2,405.62h5M634.3,405.62h-5M416.2,636.24h2.8M634.3,636.24h-2.8M416.2,594.31h2.8M634.3,594.31h-2.8M416.2,552.38h2.8M634.3,552.38h-2.8M416.2,510.45h2.8M634.3,510.45h-2.8M416.2,468.51h2.8M634.3,468.51h-2.8M416.2,426.59h2.8M634.3,426.59h-2.8" stroke="#333" stroke-width="1.2" fill="none"/>
<defs><linearGradient id="g365" x1="0" y1="0" x2="0" y2="1"><stop offset="0" stop-color="#7fd8fa"/><stop offset="0.5" stop-color="#58bff5"/><stop offset="0.56" stop-color="#1f78dc"/><stop offset="1" stop-color="#1a6ed8"/></linearGradient><radialGradient id="glow" cx="0.5" cy="0.5" r="0.5"><stop offset="0" stop-color="#e8ffff"/><stop offset="0.6" stop-color="#b8f4ff" stop-opacity="0.8"/><stop offset="1" stop-color="#90e8ff" stop-opacity="0"/></radialGradient><linearGradient id="g425" x1="0" y1="0" x2="0" y2="1"><stop offset="0" stop-color="#c8dcff"/><stop offset="0.18" stop-color="#7898f8"/><stop offset="0.5" stop-color="#6a88f4"/><stop offset="0.56" stop-color="#3038e4"/><stop offset="1" stop-color="#2020d8"/></linearGradient><linearGradient id="g460" x1="0" y1="0" x2="0" y2="1"><stop offset="0" stop-color="#40c0f4"/><stop offset="0.45" stop-color="#1890ea"/><stop offset="0.7" stop-color="#1a9cee"/><stop offset="1" stop-color="#20a8f0"/></linearGradient><linearGradient id="g523" x1="0" y1="0" x2="0" y2="1"><stop offset="0" stop-color="#70d870"/><stop offset="0.5" stop-color="#38b848"/><stop offset="1" stop-color="#1e9a34"/></linearGradient><linearGradient id="g620" x1="0" y1="0" x2="0" y2="1"><stop offset="0" stop-color="#f8a050"/><stop offset="0.2" stop-color="#f04a20"/><stop offset="0.6" stop-color="#d82810"/><stop offset="1" stop-color="#9a1408"/></linearGradient><linearGradient id="gwh" x1="0" y1="0" x2="1" y2="0"><stop offset="0" stop-color="#dcdcd6"/><stop offset="0.25" stop-color="#f8f8f6"/><stop offset="0.7" stop-color="#f0f0ee"/><stop offset="1" stop-color="#c4c4bc"/></linearGradient></defs>
<rect x="438.8" y="634.2" width="26.5" height="34.39999999999998" fill="#fff"/>
<path d="M444.8,661.8000000000001V647.2900000000001A6.09,6.09 0 0 1 450.89,641.2H453.21000000000004A6.09,6.09 0 0 1 459.3,647.2900000000001V661.8000000000001Z" fill="url(#g365)"/>
<ellipse cx="452.05" cy="650.092" rx="5.22" ry="4.679999999999995" fill="url(#glow)"/>
<rect x="444.0" y="661.8000000000001" width="16.1" height="2.8" fill="#58cff6"/>
<rect x="429.3" y="557.0" width="25.599999999999966" height="35.200000000000045" fill="#fff"/>
<path d="M435.3,585.4000000000001V569.712A5.7119999999999855,5.7119999999999855 0 0 1 441.012,564.0H443.188A5.7119999999999855,5.7119999999999855 0 0 1 448.9,569.712V585.4000000000001Z" fill="url(#g365)"/>
<ellipse cx="442.1" cy="573.196" rx="4.8959999999999875" ry="4.84000000000001" fill="url(#glow)"/>
<rect x="434.5" y="585.4000000000001" width="15.199999999999966" height="2.8" fill="#58cff6"/>
<rect x="458.4" y="496.3" width="25.600000000000023" height="35.099999999999966" fill="#fff"/>
<path d="M464.4,524.6V509.012A5.7120000000000095,5.7120000000000095 0 0 1 470.11199999999997,503.3H472.288A5.7120000000000095,5.7120000000000095 0 0 1 478,509.012V524.6Z" fill="url(#g425)"/>
<path d="M465.9,516.796H476.5" stroke="#d0e0ff" stroke-width="1"/>
<rect x="463.59999999999997" y="524.6" width="15.200000000000022" height="2.8" fill="#c8d4ff"/>
<rect x="439.3" y="451.0" width="25.599999999999966" height="34.80000000000001" fill="#fff"/>
<path d="M445.3,479.0V463.712A5.7119999999999855,5.7119999999999855 0 0 1 451.012,458.0H453.188A5.7119999999999855,5.7119999999999855 0 0 1 458.9,463.712V479.0Z" fill="url(#g460)"/>
<path d="M447.3,472.28000000000003H456.5" stroke="#f0ffff" stroke-width="1.6"/>
<path d="M450.6,478.0L455.1,475.136" stroke="#0a50c8" stroke-width="1"/>
<rect x="444.5" y="479.0" width="15.199999999999966" height="2.8" fill="#70e4f8"/>
<rect x="472.9" y="412" width="25.0" height="34" fill="#fff"/>
<path d="M478.9,439.2V424.46A5.46,5.46 0 0 1 484.35999999999996,419H486.44A5.46,5.46 0 0 1 491.9,424.46V439.2Z" fill="url(#g523)"/>
<path d="M480.9,431.65H489.9" stroke="#f0fff0" stroke-width="1.5"/>
<path d="M481.9,438.2L487.4,433.26L488.9,438.2" stroke="#108a20" stroke-width="1" fill="none"/>
<rect x="478.09999999999997" y="439.2" width="14.6" height="2.8" fill="#68d068"/>
<rect x="514.4" y="428.3" width="25.600000000000023" height="35.5" fill="#fff"/>
<path d="M520.4,457.0V441.012A5.7120000000000095,5.7120000000000095 0 0 1 526.112,435.3H528.288A5.7120000000000095,5.7120000000000095 0 0 1 534,441.012V457.0Z" fill="url(#g620)"/>
<path d="M522.9,447.55H531.5" stroke="#fff4e0" stroke-width="1.4"/>
<path d="M523.4,452.94H531" stroke="#500800" stroke-width="1.4"/>
<rect x="519.6" y="457.0" width="15.200000000000022" height="2.8" fill="#f49030"/>
<rect x="574" y="479.1" width="26.399999999999977" height="34.599999999999966" fill="#fff"/>
<path d="M580,506.9V492.148A6.04799999999999,6.04799999999999 0 0 1 586.048,486.1H588.352A6.04799999999999,6.04799999999999 0 0 1 594.4,492.148V506.9Z" fill="url(#gwh)" stroke="#c0c0b8" stroke-width="0.7"/>
<path d="M582,499.08L588.2,499.788L592.4,498.372M583,500.732L590.2,505.9M591.4,500.26L585.2,505.9" stroke="#d0ccbc" stroke-width="0.9" fill="none"/>
<rect x="579.2" y="506.9" width="15.999999999999977" height="2.8" fill="#eeeeea" stroke="#d4d4cc" stroke-width="0.6"/>
<rect x="602.1" y="546.3" width="26.5" height="35.10000000000002" fill="#fff"/>
<path d="M608.1,574.6V559.39A6.09,6.09 0 0 1 614.19,553.3H616.51A6.09,6.09 0 0 1 622.6,559.39V574.6Z" fill="url(#gwh)" stroke="#c0c0b8" stroke-width="0.7"/>
<path d="M610.1,566.555L616.35,567.278L620.6,565.832M611.1,568.242L618.35,573.6M619.6,567.76L613.35,573.6" stroke="#d0ccbc" stroke-width="0.9" fill="none"/>
<rect x="607.3000000000001" y="574.6" width="16.1" height="2.8" fill="#eeeeea" stroke="#d4d4cc" stroke-width="0.6"/>
<polygon points="436.00,647.70 432.28,649.85 432.28,654.15 436.00,656.30 439.72,654.15 439.72,649.85" fill="#800080"/>
<polygon points="442.50,551.90 438.78,554.05 438.78,558.35 442.50,560.50 446.22,558.35 446.22,554.05" fill="#000080"/>
<polygon points="454.90,507.90 451.18,510.05 451.18,514.35 454.90,516.50 458.62,514.35 458.62,510.05" fill="#1a80c0"/>
<polygon points="465.90,451.90 462.18,454.05 462.18,458.35 465.90,460.50 469.62,458.35 469.62,454.05" fill="#00ffff"/>
<polygon points="485.40,407.00 481.68,409.15 481.68,413.45 485.40,415.60 489.12,413.45 489.12,409.15" fill="#00ff00"/>
<polygon points="515.50,425.00 511.78,427.15 511.78,431.45 515.50,433.60 519.22,431.45 519.22,427.15" fill="#ff0000"/>
<polygon points="587.30,513.00 583.58,515.15 583.58,519.45 587.30,521.60 591.02,519.45 591.02,515.15" fill="#ff8000"/>
<polygon points="615.40,541.00 611.68,543.15 611.68,547.45 615.40,549.60 619.12,547.45 619.12,543.15" fill="#ff80ff"/>
<rect x="495" y="505.4" width="68.1" height="119.6" fill="#fff" stroke="#444" stroke-width="1.1"/>
<polygon points="509.50,510.10 505.78,512.25 505.78,516.55 509.50,518.70 513.22,516.55 513.22,512.25" fill="#800080"/>
<text x="523.8" y="518.6" font-size="12.2" text-anchor="start" fill="#000" textLength="36.5" lengthAdjust="spacingAndGlyphs">365 nm</text>
<polygon points="509.50,524.93 505.78,527.08 505.78,531.38 509.50,533.53 513.22,531.38 513.22,527.08" fill="#000080"/>
<text x="523.8" y="533.4300000000001" font-size="12.2" text-anchor="start" fill="#000" textLength="36.5" lengthAdjust="spacingAndGlyphs">385 nm</text>
<polygon points="509.50,539.76 505.78,541.91 505.78,546.21 509.50,548.36 513.22,546.21 513.22,541.91" fill="#1a80c0"/>
<text x="523.8" y="548.26" font-size="12.2" text-anchor="start" fill="#000" textLength="36.5" lengthAdjust="spacingAndGlyphs">425 nm</text>
<polygon points="509.50,554.59 505.78,556.74 505.78,561.04 509.50,563.19 513.22,561.04 513.22,556.74" fill="#00ffff"/>
<text x="523.8" y="563.09" font-size="12.2" text-anchor="start" fill="#000" textLength="36.5" lengthAdjust="spacingAndGlyphs">460 nm</text>
<polygon points="509.50,569.42 505.78,571.57 505.78,575.87 509.50,578.02 513.22,575.87 513.22,571.57" fill="#00ff00"/>
<text x="523.8" y="577.9200000000001" font-size="12.2" text-anchor="start" fill="#000" textLength="36.5" lengthAdjust="spacingAndGlyphs">523 nm</text>
<polygon points="509.50,584.25 505.78,586.40 505.78,590.70 509.50,592.85 513.22,590.70 513.22,586.40" fill="#ff0000"/>
<text x="523.8" y="592.75" font-size="12.2" text-anchor="start" fill="#000" textLength="36.5" lengthAdjust="spacingAndGlyphs">620 nm</text>
<polygon points="509.50,599.08 505.78,601.23 505.78,605.53 509.50,607.68 513.22,605.53 513.22,601.23" fill="#ff8000"/>
<text x="523.8" y="607.58" font-size="12.2" text-anchor="start" fill="#000" textLength="36.5" lengthAdjust="spacingAndGlyphs">850 nm</text>
<polygon points="509.50,613.91 505.78,616.06 505.78,620.36 509.50,622.51 513.22,620.36 513.22,616.06" fill="#ff80ff"/>
<text x="523.8" y="622.4100000000001" font-size="12.2" text-anchor="start" fill="#000" textLength="36.5" lengthAdjust="spacingAndGlyphs">940 nm</text>
</g>
</svg></body></html>
